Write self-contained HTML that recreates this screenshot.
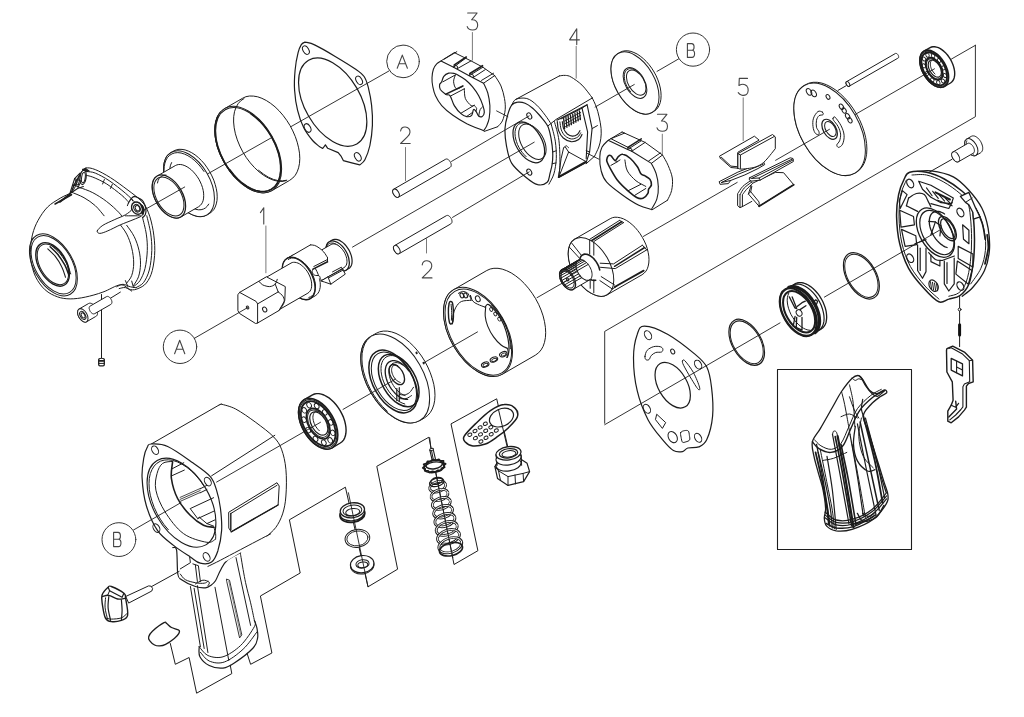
<!DOCTYPE html>
<html><head><meta charset="utf-8"><title>Exploded view</title>
<style>
html,body{margin:0;padding:0;background:#fff;font-family:"Liberation Sans",sans-serif;}
svg{display:block}
.g{fill:none;stroke:#1c1c1c;stroke-width:1;stroke-linecap:round;stroke-linejoin:round}
.t{stroke:#444;stroke-width:1.1}
</style></head><body>
<svg width="1024" height="717" viewBox="0 0 1024 717" class="g">
<rect x="0" y="0" width="1024" height="717" fill="#fff" stroke="none"/>
<g id="05_zigzag"><path d="M170.3 643.5 L175.3 664.3 L189.1 657.5 L196.6 693.2 L231.8 673.6 L228.8 657.5"/><path d="M246 650 L250.6 664.3 L271.9 653 L260.4 596 L300.2 573 L289.4 519.8 L345.4 487.2 L368 586.8 L397.6 569.2 L376.8 466.3 L428.9 437.2 L454 564.5 L477.9 550.7 L451 423.9 L496.7 398.8 L508 447.7"/></g>
<g id="10_nose"><path d="M85.8 168.1 C88.3 167.4 91.2 168 95.3 169.6 C99.4 171.2 104.9 174.2 110.4 177.6 C115.8 181 122.7 186.2 128 190.2 C133.2 194.1 138.3 197.7 141.8 201.5 C145.2 205.2 146.7 208 148.5 212.8 C150.4 217.6 152 224.1 153.1 230.3 C154.1 236.6 154.9 243.7 154.8 250.4 C154.7 257.1 153.7 265.1 152.3 270.5 C150.9 276 148.7 280.1 146.3 283.1 C143.9 286.1 140.6 287.5 138 288.6 C135.4 289.7 133.4 290.2 130.5 289.6 C127.5 289 125 284.4 120.4 284.8 C115.8 285.2 108.7 290.1 102.9 292.1 C97 294.2 90.7 296 85.3 297.1 C79.8 298.3 74.8 298.9 70.2 298.9 C65.6 298.8 61.8 298.4 57.7 296.9 C53.5 295.4 48.8 293.2 45.1 289.8 C41.4 286.5 38 281.7 35.6 276.8 C33.2 271.9 31.6 265.1 30.8 260.5 C30 255.9 30.3 253.6 30.5 249.2 C30.8 244.8 31.3 238.9 32.6 234.1 C33.8 229.3 35.6 224.8 38.1 220.3 C40.6 215.8 43.9 210.7 47.6 207 C51.3 203.3 56.2 200.7 60.2 198.2 C64.1 195.7 68.7 194.6 71.5 192.2 C74.2 189.8 75 186.9 76.5 183.9 C78 180.8 78.7 176.5 80.3 173.9 C81.8 171.2 83.3 168.8 85.8 168.1 Z" fill="#fff"/><path d="M87.3 171.6 C88.6 171.8 91.7 171.6 95.3 173.1 C99 174.6 104.1 177.3 109.1 180.6 C114.2 184 121.3 189.7 125.4 193.2 C129.6 196.7 132.8 200.1 134.2 201.5"/><path d="M84.8 175.1 C86.1 175.4 89.2 175.7 92.8 177.1 C96.4 178.6 101.8 180.9 106.6 183.9 C111.4 186.9 118.1 192.3 121.7 195.2 C125.2 198.1 126.9 200.4 128 201.5"/><path d="M146.8 215.8 C147.4 218.6 149.7 227.1 150.6 232.9 C151.4 238.6 152 244.2 151.8 250.4 C151.6 256.6 150.7 264.7 149.3 270 C147.9 275.4 145.7 279.6 143.5 282.6 C141.3 285.5 137.2 286.7 136 287.6"/><path d="M142.5 217.3 C143.1 220.1 145.5 228.6 146.3 234.1 C147.1 239.6 147.5 244.7 147.3 250.4 C147.1 256.2 146.2 263.5 145 268.5 C143.8 273.5 141.8 277.6 140 280.6 C138.2 283.5 135.2 285.2 134.2 286.1"/><path d="M119.2 223.3 C120.4 225.1 124.6 230 126.7 234.1 C128.8 238.2 130.6 243.1 131.7 247.9 C132.9 252.7 133.7 258.4 133.7 263 C133.7 267.6 132.9 272.2 131.7 275.5 C130.6 278.9 127.5 281.8 126.7 283.1"/><path d="M126.7 225.3 C128 227.2 132.2 232.4 134.2 236.6 C136.3 240.8 138 245.8 139 250.4 C140.1 255 140.6 259.8 140.5 264.2 C140.4 268.6 139.7 273.2 138.5 276.8 C137.3 280.3 134.3 284.1 133.5 285.6"/><path d="M80.3 187.7 C82.3 188.5 88.4 190.4 92.8 192.7 C97.2 195 102.2 198.1 106.6 201.5 C111 204.8 116.4 209.8 119.2 212.8 C122 215.7 122.7 218 123.4 219"/><path d="M71.5 192.2 C73.6 193.1 80 195.4 84 197.7 C88 200 92 202.7 95.3 205.7 C98.7 208.7 102.6 214.1 104.1 215.8"/><path d="M80.3 173.9 L77.2 179.6 L74 185.1 L71.5 192.2" stroke-width="1.4"/><path d="M85.8 168.1 L82.8 171.3 L80.3 177.6 L78.2 185.1"/><path d="M74 185.1 L80.3 187.7"/><path d="M55.1 204 L63.9 199 L71.5 194.7" stroke-width="1.6"/><path d="M116.7 286.8 C117.7 286.4 120.6 284.3 122.9 284.3 C125.2 284.3 128.3 286.3 130.5 286.8 C132.6 287.4 135.1 287.5 136 287.6"/><path d="M119.2 288.6 C120.2 288.4 123.4 287.2 125.4 287.6 C127.5 288 130.7 290.5 131.7 291.1"/><path d="M125.4 280.6 L128 286.8"/><path d="M131.7 281.1 L133.5 287.6"/><path d="M97.3 230.8 C97.8 229.5 100 227.2 102.9 225.3 C105.7 223.5 110.4 221.6 114.2 219.8 C117.9 218 122.4 216.6 125.4 214.8 C128.5 213 131 210.8 132.5 209 C133.9 207.2 133.3 205.1 134.2 204 C135.2 202.8 136.6 201.9 138 202.2 C139.4 202.5 141.6 204.2 142.5 205.7 C143.4 207.3 143.7 209.8 143.5 211.5 C143.4 213.2 143.5 214.4 141.8 215.8 C140 217.2 136.5 218.3 133 219.8 C129.4 221.3 124.6 223 120.4 224.8 C116.2 226.7 111.3 229.4 107.9 230.8 C104.4 232.3 101.6 233.4 99.8 233.4 C98.1 233.4 96.8 232.2 97.3 230.8 Z" fill="#fff"/><path d="M125.4 215.8 C126.7 215.8 130.5 215.8 133 215.8 C135.5 215.8 139.3 215.8 140.5 215.8"/><ellipse cx="137" cy="208.2" rx="5.12" ry="6.4" transform="rotate(-30 137 208.2)" fill="#fff" stroke-width="1.4"/><ellipse cx="137" cy="208.2" rx="3.00" ry="4" transform="rotate(-30 137 208.2)"/><ellipse cx="137.5" cy="208.2" rx="2.10" ry="2.8" transform="rotate(-30 137.5 208.2)"/><ellipse cx="83.1" cy="177.4" rx="3.0" ry="7.2" transform="rotate(8 83.1 177.4)" fill="#fff" stroke-width="1.2"/><ellipse cx="83.4" cy="177.6" rx="1.8" ry="5.2" transform="rotate(8 83.4 177.6)"/><path d="M80 173.2 L74.6 178.6 L69.8 193.7 L77.6 188.5 L83.4 186.6" stroke-width="1.1"/><path d="M74.6 178.6 L81 181"/><path d="M72.5 185.6 L79.5 184.4 L77.6 188.5"/><path d="M74.6 178.6 L76.6 183.9 L72.5 185.6"/><path d="M81 181 L79.5 184.4"/><path d="M82.5 169.3 L85.6 168.6 L89.3 170.9 L86.2 171.7 Z" fill="#222" stroke-width="1"/><path d="M60 201.8 L69.8 194.2" stroke-width="2.0"/><path d="M104.4 179.5 L102.6 184"/><path d="M112.3 184.4 L110.4 188.5"/><path d="M128.4 203 C128.8 202.2 130.3 199.7 131.3 198.6 C132.3 197.5 133.1 196.4 134.4 196.3 C135.7 196.3 137.6 197.4 139.1 198.3 C140.6 199.1 142.1 199.7 143.2 201.5 C144.3 203.3 145.6 206.6 145.9 208.8 C146.3 211 145.7 213.2 145.2 214.7 C144.6 216.2 143 217.1 142.5 217.6" stroke-width="1.2"/><path d="M141.8 205.9 C142.1 206.5 143.5 208.5 143.6 209.8 C143.7 211.1 142.7 212.9 142.5 213.5" stroke-width="2.4"/><path d="M128.4 203 L127.4 205.7"/><path d="M131.3 198.6 L132.8 201"/><ellipse cx="53.4" cy="264.9" rx="19.57" ry="33.9" transform="rotate(-30 53.4 264.9)"/><ellipse cx="53.6" cy="264.8" rx="18.42" ry="31.9" transform="rotate(-30 53.6 264.8)"/><ellipse cx="52.6" cy="264.4" rx="13.74" ry="23.8" transform="rotate(-30 52.6 264.4)" stroke-width="1.4"/><ellipse cx="52.9" cy="264.4" rx="12.82" ry="22.2" transform="rotate(-30 52.9 264.4)"/><path d="M50.1 246.8 C51.4 248.1 55.2 251.3 57.7 254.3 C60.1 257.4 63 261.7 64.9 265.2 C66.8 268.8 68.3 273.9 69 275.6" stroke-width="1.5"/><path d="M47.8 248.8 C49 250 52.8 253.2 55.1 256.2 C57.5 259.2 60.1 263.4 61.8 266.9 C63.6 270.4 64.9 275.5 65.5 277.3" stroke-width="1.1"/><path d="M52.3 246.1 C53.6 247.4 57.7 250.8 60.2 253.8 C62.6 256.9 65.4 261.2 67.2 264.5 C69 267.9 70.1 272.4 70.7 273.9"/></g>
<g id="20_bushing"><path d="M207 214.9 L204.5 216 L201.7 216.5 L198.7 216.5 L195.5 215.9 L192.3 214.8 L189 213.1 L185.6 211 L182.4 208.3 L179.2 205.3 L176.2 201.8 L173.5 198.1 L171 194.1 L168.8 190 L166.9 185.7 L165.4 181.4 L164.4 177.1 L163.7 173 L163.5 169 L163.7 165.3 L164.4 161.9 L165.4 158.9 L166.9 156.3 L168.8 154.2 L171 152.6 L173.7 151 L176.2 149.9 L179 149.3 L182 149.4 L185.1 149.9 L188.4 151.1 L191.7 152.7 L195.1 154.9 L198.3 157.5 L201.5 160.6 L204.5 164 L207.2 167.8 L209.7 171.7 L211.9 175.9 L213.8 180.2 L215.2 184.5 L216.3 188.7 L217 192.9 L217.2 196.8 L217 200.5 L216.3 203.9 L215.2 207 L213.8 209.6 L211.9 211.7 L209.7 213.3 Z" fill="#fff"/><ellipse cx="189" cy="183.7" rx="20.78" ry="36" transform="rotate(-30 189 183.7)" fill="#fff"/><path d="M204 171.5 L201.2 167.6 L198.1 163.9 L194.8 160.7 L191.4 157.9 L187.9 155.7 L184.5 154.1 L181.1 153 L177.8 152.6 L174.8 152.9 L172.1 153.8 L169.7 155.3 L167.6 157.4 L166 160 L164.9 163.1 L164.2 166.7 L164 170.6 L164.4 174.8 L165.2 179.1 L166.5 183.6 L168.2 188.1 L170.3 192.5 L172.9 196.7 L175.7 200.7 L178.8 204.3 L182.1 207.5"/><path d="M208.7 204.1 L207.3 206.2 L205.5 207.9 L203.5 209 L201.1 209.7 L198.5 209.8 L195.8 209.3 L192.9 208.4 L190 206.9 L187.1 205 L184.2 202.6 L181.5 199.8 L178.9 196.7 L176.6 193.3 L174.6 189.7 L172.8 186 L171.4 182.2 L170.4 178.4 L169.8 174.8 L169.7 171.3 L169.9 168.1 L170.5 165.2 L171.6 162.6"/><path d="M180.7 217 L179 217.7 L177.2 218 L175.3 218 L173.2 217.6 L171.1 216.9 L168.9 215.8 L166.7 214.4 L164.6 212.7 L162.5 210.7 L160.5 208.4 L158.7 206 L157.1 203.4 L155.6 200.6 L154.4 197.8 L153.5 195 L152.8 192.2 L152.3 189.5 L152.2 186.9 L152.3 184.5 L152.8 182.2 L153.5 180.3 L154.4 178.6 L155.6 177.2 L157.1 176.1 L175.3 165.6 L176.9 164.9 L178.7 164.5 L180.7 164.5 L182.7 164.9 L184.9 165.7 L187.1 166.8 L189.2 168.2 L191.4 169.9 L193.4 171.9 L195.4 174.2 L197.2 176.6 L198.9 179.2 L200.3 182 L201.5 184.7 L202.5 187.6 L203.2 190.4 L203.6 193.1 L203.7 195.7 L203.6 198.1 L203.2 200.3 L202.5 202.3 L201.5 204 L200.3 205.4 L198.9 206.5 Z" fill="#fff"/><ellipse cx="168.9" cy="196.5" rx="13.63" ry="23.6" transform="rotate(-30 168.9 196.5)" fill="#fff" stroke-width="1.3"/><ellipse cx="168.9" cy="196.5" rx="12.30" ry="21.3" transform="rotate(-30 168.9 196.5)"/><path d="M166 175.1 L163.9 175.3 L162 175.9 L160.4 177.1 L159.1 178.6 L158.1 180.6 L157.5 183"/></g>
<g id="21_sleeve"><path d="M271.9 190.6 L268.6 192 L264.9 192.7 L261 192.7 L256.9 191.9 L252.6 190.4 L248.2 188.2 L243.8 185.4 L239.6 181.9 L235.4 177.9 L231.5 173.4 L227.8 168.5 L224.6 163.2 L221.7 157.8 L219.2 152.2 L217.3 146.5 L215.9 140.9 L215.1 135.5 L214.8 130.3 L215.1 125.4 L215.9 120.9 L217.3 117 L219.2 113.6 L221.7 110.8 L224.6 108.6 L242.7 98.2 L245.9 96.7 L249.6 96 L253.5 96.1 L257.7 96.8 L261.9 98.3 L266.3 100.5 L270.7 103.4 L275 106.8 L279.1 110.8 L283 115.3 L286.7 120.3 L290 125.5 L292.8 130.9 L295.3 136.6 L297.2 142.2 L298.6 147.8 L299.5 153.2 L299.8 158.4 L299.5 163.3 L298.6 167.8 L297.2 171.8 L295.3 175.2 L292.8 178 L290 180.1 Z" fill="#fff"/><ellipse cx="248.2" cy="149.6" rx="27.31" ry="47.3" transform="rotate(-30 248.2 149.6)" fill="#fff"/><ellipse cx="248.2" cy="149.6" rx="26.56" ry="46" transform="rotate(-30 248.2 149.6)" stroke-width="1.0"/><path d="M229.6 169.6 L233.5 174.6 L237.7 179.1 L242.1 183 L246.7 186.2 L251.3 188.7 L255.8 190.5 L260.2 191.4 L264.3 191.5 L268.1 190.8 L271.5 189.2 L274.5 186.9 L276.9 183.8 L278.8 180.1 L280 175.7 L280.7 170.8 L280.6 165.5 L280 159.9 L278.7 154.1 L276.8 148.2 L274.3 142.3 L271.4 136.6 L267.9 131.1 L264.1 126 L259.9 121.3 L255.6 117.3 L251 113.8" stroke-width="1.6"/><path d="M218.2 116.1 L216.5 120.2 L215.4 124.9 L215 130.1 L215.3 135.8 L216.3 141.7 L217.9 147.7 L220.2 153.8 L223 159.9 L226.3 165.7 L230.1 171.2 L234.2 176.2" stroke-width="1.4"/><path d="M244 98.6 L240.8 100.7 L238.1 103.7 L236 107.4 L234.5 111.7 L233.7 116.7 L233.6 122 L234.2 127.8 L235.4 133.8 L237.3 139.9 L239.8 146 L242.8 151.9 L246.3 157.6 L250.3 162.9 L254.6 167.7 L259.1 171.9 L263.8 175.4 L268.5 178.1 L273.2 180.1 L277.7 181.2 L282 181.4 L286 180.7"/><path d="M258.6 170.3 L263.5 174.1 L268.4 177.2 L273.4 179.4 L278.1 180.6 L282.6 180.9 L286.8 180.2"/></g>
<g id="22_gasket"><path d="M305.1 42.1 C306.8 42.6 310.1 42.7 315.1 45.1 C320.2 47.5 328.5 52.4 335.2 56.4 C341.9 60.4 350.5 65.6 355.3 69 C360.1 72.3 361.9 73.4 364.1 76.5 C366.3 79.6 367.1 83 368.4 87.8 C369.6 92.6 371 99.1 371.6 105.4 C372.3 111.6 372.7 118.8 372.4 125.4 C372.1 132.1 371.1 139.8 369.9 145.5 C368.6 151.3 366.5 156.6 364.9 159.8 C363.2 163.1 360.7 164 359.8 164.9 L350.8 162.6 L343.3 160.6 L341 156.1 L338.2 152.6 L327.7 148.3 L325.4 144.8 L322.7 148.5 L319.7 146.8 L319.7 146.8 C318.5 145.7 315.3 143.7 312.6 140.5 C310 137.4 306.4 133 303.9 128 C301.3 122.9 299.1 116.7 297.6 110.4 C296 104.1 295 97 294.6 90.3 C294.1 83.6 294.5 76.5 295.1 70.2 C295.6 63.9 297 56.9 298.1 52.6 C299.1 48.4 300.2 46.4 301.3 44.6 C302.5 42.8 304.5 42.5 305.1 42.1 Z" fill="#fff" stroke-width="1.2"/><ellipse cx="332.7" cy="102.1" rx="27.89" ry="48.3" transform="rotate(-30 332.7 102.1)" stroke-width="1.2"/><ellipse cx="305.9" cy="50.1" rx="2.85" ry="4.6" transform="rotate(-30 305.9 50.1)"/><ellipse cx="359.1" cy="80.3" rx="2.85" ry="4.6" transform="rotate(-30 359.1 80.3)"/><ellipse cx="307.6" cy="128" rx="2.85" ry="4.6" transform="rotate(-30 307.6 128)"/><ellipse cx="357.8" cy="156.8" rx="2.85" ry="4.6" transform="rotate(-30 357.8 156.8)"/></g>
<g id="30_cam3a"><path d="M441 60.9 L454.3 52.6 L465.4 58.1 L471 60.9 L482.9 67.2 L494.7 75.6 L501 86 L504.5 98.6 L505.2 109.7 L502.4 120.9 L497.5 126.8 L484.3 131.4 L483.6 130.7 L466.8 123.7 L441.7 105.6 L432 77.7 Z" fill="#fff" stroke="none"/><path d="M494.7 75.6 C495.8 77.3 499.4 82.2 501 86 C502.6 89.9 503.8 94.6 504.5 98.6 C505.2 102.5 505.5 106 505.2 109.7 C504.8 113.5 503.7 118.1 502.4 120.9 C501.1 123.7 498.3 125.8 497.5 126.8"/><path d="M497.5 126.8 L484.3 131.4"/><path d="M454.3 52.6 L465.4 58.1 L471 60.9 L482.9 67.2 L494.7 75.6"/><path d="M441 60.9 L453.6 67.2 L469.6 76 L483.6 83.2 L483.6 83.2 C484.3 84.9 486.7 89.3 487.8 93 C488.8 96.7 489.6 101.4 489.9 105.6 C490.1 109.7 489.7 114.6 489.2 118.1 C488.6 121.6 487.3 124.4 486.4 126.5 C485.4 128.6 484 130 483.6 130.7 L483.6 130.7 C480.8 129.5 472 126.2 466.8 123.7 C461.7 121.1 457.1 118.3 452.9 115.3 C448.7 112.3 444.6 108.8 441.7 105.6 C438.8 102.3 437 99 435.5 95.8 C433.9 92.5 433.3 89 432.7 86 C432.1 83 431.9 80.4 432 77.7 C432.1 74.9 432.6 71.6 433.4 69.3 C434.2 67 435.6 65.1 436.9 63.7 C438.1 62.3 440.3 61.4 441 60.9 Z" fill="#fff" stroke-width="1.1"/><path d="M441 60.9 L454.3 52.6"/><path d="M444.1 59.2 L456.8 51.7"/><path d="M453.6 67.2 L465.4 58.4"/><path d="M457.4 68.6 L471 60.9"/><path d="M469.4 75.6 L482.9 67.2"/><path d="M473.3 77.4 L485.3 69.6"/><path d="M483.6 83.2 L494.7 75.6"/><path d="M481.5 80.4 L493.6 73.2"/><path d="M453.6 67.2 L454.3 64.8 L457.4 66.2 L457.4 68.6"/><path d="M469.4 75.6 L469.9 73.5 L473.3 75.1 L473.3 77.4"/><path d="M454.3 64.8 L466.3 57" stroke-width="1.6"/><path d="M469.9 73.5 L482.5 65.7" stroke-width="1.6"/><path d="M441.7 81.8 C442.4 80.4 442.7 77.7 443.8 76.3 C445 74.8 447 73.7 448.7 73.2 C450.5 72.7 452.8 73.2 454.3 73.5 C455.8 73.8 455.9 73.8 457.8 74.9 C459.6 75.9 463 77.8 465.4 79.7 C467.9 81.7 470.2 84 472.4 86.7 C474.6 89.4 477 92.6 478.7 95.8 C480.4 98.9 482 102.8 482.9 105.6 C483.8 108.3 484.4 110.7 484.3 112.5 C484.2 114.3 483.1 115.8 482.2 116.4 C481.3 117 479.7 116.9 478.7 116 C477.6 115.1 476.8 112.2 475.9 111.1 C475 110.1 474.2 109 473.5 109.7 C472.8 110.4 472.8 114.2 471.7 115.3 C470.6 116.5 468.6 116.9 466.8 116.7 C465.1 116.5 463.4 115.8 461.3 113.9 C459.2 112.1 456.1 108.6 454.3 105.6 C452.4 102.5 451.5 97.6 450.1 95.8 C448.7 93.9 447.5 95.4 445.9 94.4 C444.3 93.3 441.4 91.1 440.3 89.5 C439.3 87.9 439.4 85.9 439.6 84.6 C439.9 83.4 441 83.2 441.7 81.8 Z" stroke-width="1.2"/><path d="M442.9 81.8 L455.4 74.9"/><path d="M445.9 94.1 L462.9 86" stroke-width="1.5"/><path d="M450.4 96.1 L464.3 88.8"/><path d="M461 113.2 L474.1 105.3"/><path d="M466.8 116.4 L472.4 112.5"/><path d="M455.4 74.9 C455.1 76 453.4 79.5 453.6 81.8 C453.8 84.2 454.8 88.1 456.4 88.8 C457.9 89.5 461.8 86.5 462.9 86"/><path d="M464.3 88.8 C464.5 90.4 464.3 95.8 465.4 98.6 C466.6 101.4 469.6 104.4 471 105.6 C472.5 106.7 473.6 105.3 474.1 105.3"/><path d="M474.1 105.3 C474.5 105.8 476.3 107.4 476.6 108.3 C476.9 109.3 476 110.7 475.9 111.1"/><path d="M478.7 116 C478.9 115 479.5 111.2 480.1 109.7 C480.7 108.2 482.1 107.4 482.5 106.9"/></g>
<g id="31_cage"><path d="M515.9 99.3 L559.4 75.9 L570.3 76.7 L582 85.1 L592.1 97.6 L598.8 115.2 L601.3 131.9 L599.6 143.7 L594.6 156.2 L586.2 163.7 L558.6 178.8 L548.6 184.7 L537.7 184.7 L525.5 177 L511.6 163.1 L506.4 145.3 L505 128.6 L507.6 115.2 L511.7 105.2 Z" fill="#fff" stroke="none"/><path d="M515.9 99.3 L559.4 75.9"/><path d="M559.4 75.9 C560.4 75.8 563.3 75.2 565.3 75.4 C567.2 75.6 568.4 75.4 571.2 77.1 C573.9 78.7 578.5 81.7 582 85.1 C585.5 88.5 590.4 95.5 592.1 97.6"/><path d="M592.1 97.6 C592.8 99.2 595.1 103.6 596.3 106.8 C597.4 110 598.3 113.3 599.1 116.9 C599.9 120.5 600.8 125 601.1 128.6 C601.4 132.2 601.2 135.6 600.8 138.6 C600.4 141.7 599.8 144.1 598.8 147 C597.7 149.9 595.3 154.7 594.6 156.2"/><path d="M594.6 156.2 L586.2 163.7"/><path d="M511.7 105.2 C512.4 104.2 513.4 100.4 515.9 99.3 C518.4 98.2 523.3 97.5 526.8 98.5 C530.3 99.4 533.8 102.4 536.8 105.2 C539.9 108 542.8 112.1 545.2 115.2 C547.6 118.3 550.1 122.5 551.1 123.9"/><path d="M547.7 126.1 L556.1 119.4 L592.1 98.1"/><path d="M511.7 105.2 C513.4 103 515.4 102.5 517.6 102.2 C519.8 101.8 522.6 102.2 525.1 103.2 C527.6 104.2 530.1 106 532.7 108.2 C535.2 110.3 537.7 113.1 540.2 116 C542.7 119 545.9 122.3 547.7 126.1 C549.5 129.9 550.2 134.3 551.1 138.6 C551.9 143 552.5 147.8 552.7 152 C552.9 156.2 552.7 160.1 552.2 163.7 C551.8 167.4 550.7 170.7 549.9 173.8 C549.1 176.9 549.3 180.3 547.2 182.2 C545.2 184 541.3 185.5 537.7 184.7 C534.1 183.8 529.8 180.6 525.5 177 C521.1 173.4 514.7 168.3 511.6 163.1 C508.4 157.8 507.5 151.1 506.4 145.3 C505.3 139.6 504.8 133.6 505 128.6 C505.2 123.6 506.4 119.1 507.6 115.2 C508.7 111.3 510.1 107.3 511.7 105.2 Z" fill="#fff" stroke-width="1.2"/><path d="M551.1 123.9 C551.8 126.8 554.4 135.3 555.3 141.2 C556.1 147 556.5 153.3 556.3 158.7 C556 164.2 555.1 169.5 553.9 173.8 C552.7 178 549.7 182.4 548.9 184.2"/><path d="M554.4 121.6 C555.2 124.7 558 133 558.9 140.3 C559.9 147.6 560 159.2 559.9 165.4 C559.8 171.6 558.5 175.5 558.3 177.5"/><path d="M552.7 152 L556.3 150.7"/><path d="M552.2 163.7 L556.1 162.9"/><path d="M556.9 120.2 L587.1 104.7 L592.1 128.6 L589.6 152 L586.2 162.4 L558.6 177.5" stroke-width="1.1"/><path d="M582 108.2 L587.6 131.9 L586.2 158.7" stroke-width="1.1"/><path d="M586.2 161.7 L558.9 176.8" stroke-width="2"/><path d="M587.1 104.7 L582 108.2"/><path d="M592.1 128.6 L597.4 125.6"/><path d="M589.6 152 L586.2 150.7"/><path d="M557.3 121.6 C557.5 123.1 557.6 127.9 558.6 130.6 C559.6 133.3 561.2 136.1 563.3 138 C565.4 139.8 568.6 141.4 571.2 141.7 C573.7 141.9 576.9 140.7 578.7 139.5 C580.5 138.3 581.5 135.3 582 134.5" stroke-width="1.2"/><path d="M559.9 121.9 C560.2 123.2 560.4 127.6 561.3 129.9 C562.2 132.3 563.6 134.6 565.3 136.1 C567 137.6 569.6 138.8 571.7 139 C573.7 139.1 576.3 138 577.8 137 C579.4 135.9 580.2 133.5 580.7 132.8"/><path d="M562.3 121.6 C562.5 122.7 562.8 126.5 563.6 128.6 C564.5 130.7 565.9 132.7 567.3 134 C568.8 135.2 570.6 136 572.3 136.1 C574 136.2 576.1 135.4 577.3 134.5 C578.6 133.5 579.6 131.2 580 130.6" stroke-width="1.1"/><path d="M561.1 118.9 L582 108.2"/><path d="M563.6 118.2 L564.6 128.6" stroke-width="1.3"/><path d="M565.9 117.2 L566.9 127.3" stroke-width="1.3"/><path d="M568.1 116.1 L569.1 126" stroke-width="1.3"/><path d="M570.4 115.1 L571.4 124.7" stroke-width="1.3"/><path d="M572.7 114.1 L573.7 123.4" stroke-width="1.3"/><path d="M574.9 113 L575.9 122.2" stroke-width="1.3"/><path d="M577.2 112 L578.2 120.9" stroke-width="1.3"/><path d="M579.4 111 L580.4 119.6" stroke-width="1.3"/><path d="M564.5 121.1 L580.7 112.4" stroke-width="0.8"/><path d="M564.5 124.1 L580.7 115.4" stroke-width="0.8"/><path d="M564.5 127.1 L580.7 118.4" stroke-width="0.8"/><path d="M565.3 147 L568.6 152 L586.2 161.7"/><path d="M568.6 152 L559.3 175.8"/><path d="M564 147.8 C564.3 147.5 565.3 145.7 566.1 145.7 C566.9 145.7 568.2 147.5 568.6 147.8"/><path d="M563.6 147.8 L561.1 158.7 L558.6 177.1"/><ellipse cx="528.8" cy="142.3" rx="12.93" ry="22.4" transform="rotate(-30 528.8 142.3)" stroke-width="1.2"/><ellipse cx="532.4" cy="141.7" rx="11.20" ry="19.4" transform="rotate(-30 532.4 141.7)"/><path d="M536.3 130.1 L534.3 128 L532.2 126.3 L530.1 124.8 L527.9 123.8 L525.8 123.1 L523.8 122.8 L521.9 122.9 L520.2 123.4 L518.6 124.3 L517.3 125.5 L516.3 127.1 L515.6 129.1 L515.1 131.3 L515 133.7 L515.2 136.3 L515.7 139 L516.5 141.7 L517.5 144.5 L518.9 147.3 L520.4 149.9 L522.2 152.4 L524.1 154.6 L526.1 156.6"/><ellipse cx="529.3" cy="116" rx="2.18" ry="3.3" transform="rotate(-30 529.3 116)"/><ellipse cx="529.3" cy="172.1" rx="2.18" ry="3.3" transform="rotate(-30 529.3 172.1)"/></g>
<g id="32_washer"><path d="M652 112.4 L649.6 113.5 L647 114 L644.2 114 L641.2 113.4 L638.1 112.3 L635 110.8 L631.9 108.7 L628.8 106.2 L625.8 103.3 L623 100.1 L620.4 96.6 L618 92.8 L615.9 88.9 L614.2 84.9 L612.8 80.8 L611.8 76.8 L611.2 72.9 L611 69.1 L611.2 65.6 L611.8 62.4 L612.8 59.6 L614.2 57.1 L615.9 55.1 L618 53.6 L620.1 52.4 L622.4 51.3 L625.1 50.8 L627.9 50.8 L630.9 51.4 L633.9 52.5 L637.1 54 L640.2 56.1 L643.3 58.6 L646.3 61.5 L649.1 64.7 L651.7 68.2 L654.1 72 L656.2 75.9 L657.9 79.9 L659.3 84 L660.3 88 L660.9 91.9 L661.1 95.7 L660.9 99.2 L660.3 102.4 L659.3 105.2 L657.9 107.7 L656.2 109.7 L654.1 111.2 Z" fill="#fff"/><ellipse cx="635" cy="83" rx="19.63" ry="34" transform="rotate(-30 635 83)" fill="#fff"/><ellipse cx="635" cy="83" rx="9.70" ry="16.8" transform="rotate(-30 635 83)"/><ellipse cx="636.2" cy="82.6" rx="7.97" ry="13.8" transform="rotate(-30 636.2 82.6)"/><path d="M640 74 L638.5 72.6 L637 71.3 L635.4 70.2 L633.8 69.4 L632.3 68.9 L630.8 68.7 L629.4 68.7 L628.1 69.1 L627 69.7 L626.1 70.6 L625.3 71.7 L624.7 73.1 L624.4 74.7 L624.3 76.4 L624.4 78.3 L624.7 80.3 L625.2 82.3 L626 84.3 L626.9 86.3 L628 88.3 L629.3 90.1 L630.6 91.8"/></g>
<g id="33_cam3b"><path d="M608.1 140.3 L622.1 132 L645.1 142.4 L662.5 155 L668.1 165.4 L672.3 178 L671.6 190.6 L667.4 200.3 L652.1 209.8 L638.8 205.2 L606.7 182.2 L599.8 157.1 Z" fill="#fff" stroke="none"/><path d="M622.1 132 L645.1 142.4 L662.5 155"/><path d="M662.5 155 C663.5 156.7 666.5 161.6 668.1 165.4 C669.7 169.3 671.7 173.8 672.3 178 C672.9 182.2 672.4 186.8 671.6 190.6 C670.8 194.3 668.1 198.7 667.4 200.3"/><path d="M667.4 200.3 L652.1 209.8"/><path d="M608.1 140.3 L627.7 149.4 L631.8 151.2 L651.4 163.4 L651.4 163.4 C652.2 165.1 655.1 170 656.2 173.8 C657.4 177.6 658.2 182.2 658.3 186.4 C658.5 190.6 658.1 195.1 656.9 198.9 C655.8 202.8 652.3 207.6 651.4 209.4 L651.4 209.4 C649.3 208.7 643.7 207.6 638.8 205.2 C633.9 202.8 627.4 198.6 622.1 194.7 C616.7 190.9 610.2 186.1 606.7 182.2 C603.2 178.2 602.3 175.2 601.2 171 C600 166.8 599.6 161 599.8 157.1 C599.9 153.1 600.5 150.1 601.9 147.3 C603.2 144.5 607.1 141.5 608.1 140.3 Z" fill="#fff" stroke-width="1.1"/><path d="M608.1 140.3 L622.1 132"/><path d="M610.9 138.7 L624.6 133.1"/><path d="M627.7 149.4 L640.9 141"/><path d="M631.8 151.2 L645.1 142.4"/><path d="M651.4 163.4 L662.5 155"/><path d="M648.6 161 L660.4 152.9"/><path d="M627.7 149.4 L627.9 147.3 L631.8 149 L631.8 151.2"/><path d="M627.9 147.3 L641.3 138.9" stroke-width="1.5"/><path d="M610.9 138.7 L627.9 147.3"/><path d="M606.7 159.9 C606.9 158.8 607.4 156.7 608.1 156 C608.8 155.3 609.8 154.9 610.9 155.7 C612.1 156.5 613.8 160.4 615.1 160.6 C616.4 160.7 617.3 157.4 618.6 156.4 C619.9 155.3 620.8 153.9 622.8 154.3 C624.8 154.6 628 156.4 630.4 158.5 C632.9 160.6 635.7 164.3 637.4 166.8 C639.2 169.4 639.6 172.3 640.9 173.8 C642.2 175.3 643.6 175 645.1 175.9 C646.6 176.8 648.9 177.9 650 179.4 C651 180.9 651.6 183.3 651.4 185 C651.1 186.6 649.2 187.8 648.6 189.2 C648 190.6 648.8 191.8 647.9 193.3 C647 194.9 644.9 197.5 643 198.2 C641.1 198.9 639.3 198.8 636.7 197.5 C634.2 196.2 630.8 193.3 627.7 190.6 C624.5 187.8 620.7 184.3 617.9 180.8 C615.1 177.3 612.7 172.7 610.9 169.6 C609.2 166.6 608.1 164.3 607.4 162.7 C606.7 161 606.6 161 606.7 159.9 Z" stroke-width="1.6"/><path d="M624.9 159.9 C625.3 161.7 625.5 167.5 627.4 171 C629.2 174.5 633 178.2 636 180.8 C639.1 183.3 644.2 185.4 645.8 186.4"/><path d="M628.4 190.6 L640.9 184.3"/><path d="M634.6 195.4 L645.8 188.5"/><path d="M610.9 165.4 L617.9 161.5"/><path d="M615.1 160.6 C615.5 160.7 616.4 161.7 617.2 161.5 C618 161.4 619.5 160.1 620 159.9"/></g>
<g id="40_vanes"><path d="M719.8 156 L754.4 136.2 L759.1 140.1 L737.9 152.2 L737.9 168.2 L730.9 167.5 L720.5 158.2 Z" fill="#fff"/><path d="M720.5 158.2 L721.2 157.1 L730.9 166.1 L737.9 166.8"/><path d="M751.8 183.6 L775.3 172.4 L783.6 172.7 L793.7 184.7 L759.1 206.3 L748.4 194 L750.4 187.8 Z" fill="#fff"/><path d="M759.1 206.3 L793.7 184.7" stroke-width="1.8"/><path d="M748.4 194 L750.7 191.7 L759.1 202 L759.1 206.3"/><path d="M750.7 191.7 L751.8 186.4"/><path d="M719.5 181.5 L737.9 172.1 L751.8 166.6 L763.7 162.1 L764.7 164.6 L758.1 168.5 L744.9 174.9 L730.6 180.5 L728.4 183.6 L720.5 184.3 Z" fill="#fff"/><path d="M721.4 182.5 L730.6 180.5"/><path d="M721.4 182.5 L738.6 174.1 L751.8 168.8 L763.3 164.1"/><path d="M749.7 177.7 L790.2 157.8 L793 158.5 L793.4 161.5 L760.2 180.1 L751.8 181.1 L749.7 180.1 Z" fill="#fff"/><path d="M751.8 178.4 L792 159.2"/><path d="M749.7 177.7 L751.8 178.4 L759.1 178 L760.2 180.1"/><path d="M759.1 178 L793.1 159.9"/><path d="M737.9 153.6 L737.9 168.2"/><path d="M737.9 168.2 L737.9 153.6 L772.5 134.5 L775.3 136.9 L775.3 148.7 L771.4 153.6 L771.4 153.6 C770.1 155.1 766.3 160.2 763.7 162.4 C761.1 164.6 758.7 165.8 756 166.8 C753.4 167.9 750.2 168.1 747.7 168.5 C745.1 168.9 742.3 169.1 740.7 169.1 C739.1 169 738.4 168.4 737.9 168.2 Z" fill="#fff"/><path d="M740.4 168.5 L740.4 155 L774.4 136.4"/><path d="M737.9 153.6 L740.4 155"/><path d="M737.9 193.3 C738.7 192.2 740.7 188.5 742.8 186.4 C744.9 184.3 749.2 181.7 750.4 180.8 L752.5 183.6 L752.5 183.6 C751.5 184.6 748.2 187.6 746.5 189.4 C744.8 191.3 743.1 193.9 742.4 194.7 L742.4 206.6 L740 207.6 L737.9 205.9 Z" fill="#fff"/><path d="M740 194.7 C740.7 193.6 742.3 190.1 744.2 188 C746 186 750 183.4 751.1 182.5"/><path d="M740 194.7 L740 207.6"/><path d="M742.4 206.6 L751.8 201.4"/></g>
<g id="41_disc"><path d="M854.9 173.1 L851.3 174.6 L847.4 175.4 L843.2 175.4 L838.8 174.5 L834.2 173 L829.6 170.6 L824.9 167.6 L820.3 163.9 L815.9 159.6 L811.7 154.7 L807.8 149.5 L804.3 143.9 L801.2 138.1 L798.6 132.1 L796.5 126 L795 120 L794.1 114.2 L793.8 108.6 L794.1 103.4 L795 98.6 L796.5 94.4 L798.6 90.7 L801.2 87.8 L804.3 85.5 L805.8 84.6 L809.3 83 L813.2 82.3 L817.4 82.3 L821.8 83.1 L826.4 84.7 L831.1 87.1 L835.8 90.1 L840.4 93.8 L844.8 98.1 L849 102.9 L852.9 108.2 L856.4 113.8 L859.5 119.6 L862.1 125.6 L864.2 131.7 L865.7 137.7 L866.6 143.5 L866.9 149.1 L866.6 154.3 L865.7 159 L864.2 163.3 L862.1 166.9 L859.5 169.9 L856.4 172.2 Z" fill="#fff"/><ellipse cx="829.6" cy="129.3" rx="29.21" ry="50.6" transform="rotate(-30 829.6 129.3)" fill="#fff"/><ellipse cx="829.6" cy="129.3" rx="6.35" ry="11" transform="rotate(-30 829.6 129.3)" stroke-width="1.2"/><ellipse cx="830.4" cy="129" rx="4.73" ry="8.2" transform="rotate(-30 830.4 129)"/><path d="M822.5 112.2 C821.7 111.7 819.5 110.5 818 111.5 C816.5 112.5 814.3 115.7 813.5 118.2 C812.6 120.8 812.7 124.1 813 126.5 C813.2 129 814.1 131.4 815 132.8 C815.9 134.2 817.8 135 818.5 134.8 C819.2 134.7 819.3 133.1 819 131.8 C818.7 130.5 816.9 129.2 816.5 127.3 C816.1 125.4 816.1 122.2 816.5 120.3 C816.9 118.3 817.9 116.7 819 115.7 C820.1 114.8 822.4 115.3 823 114.7 C823.6 114.1 823.4 112.8 822.5 112.2 Z"/><path d="M833.1 118.2 C833.3 117.7 833.7 116 835.1 117.2 C836.4 118.5 839.6 122.8 841.1 125.8 C842.6 128.8 843.9 132.3 844.1 135.3 C844.4 138.4 843.5 142.1 842.6 144.1 C841.7 146.1 839.6 147.2 838.6 147.4 C837.6 147.5 836.7 145.9 836.8 144.9 C837 143.8 839 142.6 839.6 140.8 C840.2 139 840.8 136.4 840.6 134.1 C840.3 131.7 839.3 128.8 838.1 126.5 C836.9 124.2 834.4 121.6 833.6 120.3 C832.7 118.9 832.8 118.7 833.1 118.2 Z"/><ellipse cx="809" cy="91.9" rx="2.34" ry="3.6" transform="rotate(-30 809 91.9)"/><ellipse cx="813.7" cy="93.4" rx="2.34" ry="3.6" transform="rotate(-30 813.7 93.4)"/><ellipse cx="828" cy="96.9" rx="1.69" ry="2.6" transform="rotate(-30 828 96.9)"/><ellipse cx="841.4" cy="106.7" rx="1.89" ry="2.9" transform="rotate(-30 841.4 106.7)"/><ellipse cx="844.1" cy="110.5" rx="1.89" ry="2.9" transform="rotate(-30 844.1 110.5)"/><ellipse cx="847.6" cy="116.2" rx="1.89" ry="2.9" transform="rotate(-30 847.6 116.2)"/><ellipse cx="849.9" cy="120.3" rx="1.89" ry="2.9" transform="rotate(-30 849.9 120.3)"/></g>
<g id="42_pin3"><path d="M849.2 86.3 L849.1 86.4 L848.9 86.5 L848.6 86.5 L848.4 86.4 L848.1 86.3 L847.9 86.2 L847.7 86 L847.4 85.8 L847.2 85.6 L846.9 85.4 L846.7 85.1 L846.6 84.8 L846.4 84.5 L846.2 84.1 L846.1 83.8 L846.1 83.5 L846 83.2 L846 82.9 L846 82.6 L846.1 82.4 L846.1 82.1 L846.2 81.9 L846.4 81.8 L846.5 81.7 L895.4 53.5 L895.6 53.4 L895.8 53.3 L896 53.3 L896.2 53.4 L896.5 53.5 L896.7 53.6 L897 53.8 L897.2 54 L897.5 54.2 L897.7 54.4 L897.9 54.7 L898.1 55 L898.3 55.3 L898.4 55.7 L898.5 56 L898.6 56.3 L898.6 56.6 L898.7 56.9 L898.6 57.2 L898.6 57.4 L898.5 57.7 L898.4 57.9 L898.3 58 L898.1 58.1 Z" fill="#fff"/><ellipse cx="847.9" cy="84" rx="1.56" ry="2.7" transform="rotate(-30 847.9 84)" fill="#fff"/><path d="M846 85.8 L838 90.4"/></g>
<g id="50_rearhousing"><path d="M915.3 171.9 C919 164.2 924.6 169.9 930.9 170.8 C937.3 171.6 946.9 173.5 953.3 176.8 C959.6 180 964.1 185 968.9 190.2 C973.6 195.4 978.6 201.7 981.8 208 C985 214.3 986.8 221 988.1 228.1 C989.3 235.2 990 243.4 989.4 250.4 C988.8 257.5 987.3 264.4 984.5 270.5 C981.8 276.6 976.6 283 972.9 287.2 C969.2 291.5 966.2 294.2 962.2 296.2 C958.2 298.1 954 301.1 948.8 299.1 C943.6 297 937.6 297.6 930.9 283.9 C924.3 270.2 911.2 235.6 908.6 216.9 C906 198.3 911.6 179.6 915.3 171.9 Z" fill="#fff" stroke="none"/><path d="M915.3 171.9 C917.9 171.7 924.6 169.9 930.9 170.8 C937.3 171.6 946.9 173.5 953.3 176.8 C959.6 180 964.1 185 968.9 190.2 C973.6 195.4 978.6 201.7 981.8 208 C985 214.3 986.8 221 988.1 228.1 C989.3 235.2 990 243.4 989.4 250.4 C988.8 257.5 987.3 264.4 984.5 270.5 C981.8 276.6 976.6 283 972.9 287.2 C969.2 291.5 964 294.7 962.2 296.2" stroke-width="1.3"/><path d="M970.7 201.3 C972.1 203.6 976.8 209.5 979.2 214.7 C981.5 219.9 983.5 226.6 984.5 232.6 C985.6 238.5 986 244.5 985.4 250.4 C984.8 256.4 983.4 262.7 980.9 268.3 C978.5 273.9 972.4 281.3 970.7 283.9"/><path d="M975.6 208 C976.7 210.6 980.7 218.4 982.3 223.6 C983.9 228.9 984.7 236.7 985.2 239.3" stroke-width="1.6"/><path d="M987.2 234.8 C987.4 237 988.7 243.4 988.3 248.2 C987.9 253 985.5 261.2 985 263.8" stroke-width="1.8"/><path d="M909.7 172.3 C913.5 171.2 920.7 171.2 926.5 172.3 C932.3 173.4 938.4 175.8 944.3 179 C950.3 182.2 957.8 187.6 962.2 191.3 C966.6 195 968.8 197.1 970.7 201.3 C972.5 205.6 972.7 210.6 973.4 216.9 C974 223.3 974.5 231.8 974.5 239.3 C974.5 246.7 974.3 254.1 973.4 261.6 C972.4 269 971.1 278.2 968.9 283.9 C966.7 289.6 963.3 293 960 295.5 C956.6 298 952.3 298 948.8 299.1 C945.3 300.1 942.9 303.5 938.8 301.8 C934.7 300 929.3 294.4 924.3 288.8 C919.2 283.2 912.7 275.8 908.6 268.3 C904.5 260.8 901.7 252.3 899.7 243.7 C897.7 235.2 896.8 225.1 896.6 216.9 C896.4 208.8 897.3 201 898.6 194.6 C899.9 188.3 902.3 182.7 904.2 179 C906 175.3 906 173.4 909.7 172.3 Z" fill="#fff" stroke-width="1.5"/><path d="M912 175 C914.4 175 921.3 173.9 926.5 175 C931.7 176.1 937.6 178.6 943.2 181.7 C948.8 184.8 955.9 189.9 960 193.5 C964.1 197.1 966 199.2 967.8 203.1 C969.5 207 969.8 210.9 970.4 216.9 C971.1 223 971.6 231.8 971.6 239.3 C971.6 246.7 971.3 254.4 970.4 261.6 C969.6 268.7 968.1 276.9 966.2 282.1 C964.3 287.3 961.7 290.5 958.8 292.8 C955.9 295.2 950.5 295.6 948.8 296.2"/><path d="M906.4 180.1 C905.5 182.5 902 188.5 900.8 194.6 C899.6 200.8 898.9 208.8 899 216.9 C899.2 225.1 900 235 901.9 243.3 C903.8 251.5 906.6 259.4 910.4 266.5 C914.3 273.6 920.4 280.7 925.1 286.1 C929.9 291.6 936.7 296.9 939 299.1"/><path d="M960.4 196.4 L968.9 192.4 L975.6 208 L980 216.9 L973.4 219.2 L972.9 212.5 L968.9 204.7 L965.5 202.4 L960.4 196.4" fill="#fff" stroke-width="1.3"/><path d="M965.5 202.4 L972.2 198"/><ellipse cx="910.2" cy="183.5" rx="3.04" ry="4.6" transform="rotate(-30 910.2 183.5)" stroke-width="1.2"/><ellipse cx="960.4" cy="212.5" rx="3.04" ry="4.6" transform="rotate(-30 960.4 212.5)" stroke-width="1.2"/><ellipse cx="910.2" cy="258.2" rx="3.04" ry="4.6" transform="rotate(-30 910.2 258.2)" stroke-width="1.2"/><ellipse cx="960.4" cy="286.1" rx="3.04" ry="4.6" transform="rotate(-30 960.4 286.1)" stroke-width="1.2"/><path d="M918.7 181.2 L930.9 185.3 L953.3 198 L951.5 203.6 L941 202.7 L930.9 197.3 L922.5 189.3 Z" stroke-width="1.2"/><path d="M926.5 187.9 L932.1 195.7" stroke-width="1.1"/><path d="M932.7 191.3 L938.3 198.4" stroke-width="1.1"/><path d="M939 194.6 L944.6 201.1" stroke-width="1.1"/><path d="M945.2 198 L950.8 203.8" stroke-width="1.1"/><path d="M935.4 192.4 L949.9 199.5" stroke-width="2"/><path d="M902.4 190.6 L907.1 194.6 L900.2 208.5 L899.3 200.9 Z" stroke-width="1.2"/><path d="M899.7 210.3 L913.5 216.5 L914.4 224.8 L901 227.2 Z" stroke-width="1.2"/><path d="M901.5 229.4 L915.8 235.7 L916.7 244.6 L905.1 246.4 Z" stroke-width="1.2"/><path d="M962.6 224.8 L968.9 230.3 L968.9 243.7 L963.5 239.3 Z" stroke-width="1.2"/><path d="M958.2 246.4 L972.9 254 L972.9 266.9 L958.2 258.5 Z" stroke-width="1.2"/><path d="M957.3 261.1 L972 270.5 L968.4 284.3 L955.9 274.1 Z" stroke-width="1.2"/><path d="M908.6 198 C909.9 197.2 913.8 194.1 916.4 193.5 C919 193 922.2 193.1 924.3 194.6 C926.3 196.1 927.6 200.4 928.7 202.4 C929.8 204.5 930.6 206.2 930.9 206.9" stroke-width="1.2"/><path d="M906.4 205.8 L908.6 198" stroke-width="1.2"/><path d="M906.4 205.8 L917.6 211.4" stroke-width="1.2"/><path d="M930.9 203.6 L948.8 208.5 L952.1 202.4" stroke-width="1.2"/><path d="M937.6 200.2 L952.1 205.8" stroke-width="1.2"/><ellipse cx="935.4" cy="232.6" rx="15.59" ry="27" transform="rotate(-30 935.4 232.6)" fill="#fff" stroke-width="1.3"/><ellipse cx="936.9" cy="232.6" rx="13.97" ry="24.2" transform="rotate(-30 936.9 232.6)" stroke-width="1.2"/><path d="M944.6 214 L942.7 212.8 L940.7 212 L938.8 211.5 L937 211.3 L935.3 211.5 L933.8 212.1 L932.4 212.9 L931.3 214.2 L930.4 215.7 L929.8 217.5 L929.4 219.5 L929.3 221.7 L929.4 224.1 L929.9 226.5 L930.6 229.1 L931.6 231.6 L932.7 234.1 L934.1 236.5 L935.7 238.8 L937.4 240.9 L939.3 242.8 L941.2 244.4 L943.2 245.8 L945.1 246.8 L947.1 247.5" stroke-width="1.3"/><ellipse cx="947.4" cy="228.6" rx="6.75" ry="13.5" transform="rotate(-30 947.4 228.6)" stroke-width="1.4"/><ellipse cx="947.9" cy="228.6" rx="5.50" ry="11" transform="rotate(-30 947.9 228.6)" stroke-width="1.2"/><path d="M928.7 221.4 L935.4 221.9 L932.1 231.5 L930.9 234.8" stroke-width="1.2"/><path d="M935.4 221.9 L941 225.9 L939.9 235.9" stroke-width="1.2"/><path d="M917.6 244.8 L917.6 270.5 L922.5 278.3 L926 271.6 L926 248.2" stroke-width="1.2"/><path d="M914.9 243.7 L926 239.7" stroke-width="1.2"/><path d="M920.2 248.2 L920.2 270.5" stroke-width="1.2"/><path d="M944.3 261.1 L944.3 283.9 L948.8 291 L954.2 283.9 L954.2 258.2" stroke-width="1.2"/><path d="M947 262.7 L947 283.5" stroke-width="1.2"/><path d="M942.1 260.5 L954.4 256" stroke-width="1.2"/><path d="M928.7 252.7 C929.8 253.8 933.2 258 935.4 259.4 C937.6 260.7 941 260.3 942.1 260.5" stroke-width="1.2"/><path d="M930.9 254.9 L930.9 261.6 L939.9 266 L939.9 261.1" stroke-width="1.2"/><ellipse cx="933.6" cy="285.7" rx="4.09" ry="6.2" transform="rotate(-30 933.6 285.7)" stroke-width="1.2"/><path d="M930.5 281.7 L931.6 289.5" stroke-width="1"/><path d="M932.5 282.3 L933.6 289.9" stroke-width="1"/><path d="M934.5 283 L935.6 290.4" stroke-width="1"/><path d="M936.5 283.7 L937.6 290.8" stroke-width="1"/></g>
<g id="51_bearing_tr"><path d="M944.4 86.5 L943 87.1 L941.4 87.4 L939.7 87.4 L937.9 87 L936.1 86.4 L934.2 85.5 L932.3 84.2 L930.5 82.7 L928.7 81 L927 79.1 L925.4 76.9 L924 74.7 L922.8 72.3 L921.7 69.9 L920.9 67.5 L920.3 65.1 L919.9 62.7 L919.8 60.5 L919.9 58.4 L920.3 56.4 L920.9 54.7 L921.7 53.3 L922.8 52.1 L924 51.1 L930.1 47.6 L931.5 47 L933 46.7 L934.7 46.7 L936.5 47.1 L938.4 47.7 L940.3 48.6 L942.1 49.9 L944 51.4 L945.8 53.1 L947.5 55 L949 57.2 L950.5 59.4 L951.7 61.8 L952.8 64.2 L953.6 66.6 L954.2 69 L954.6 71.4 L954.7 73.6 L954.6 75.7 L954.2 77.7 L953.6 79.4 L952.8 80.8 L951.7 82 L950.5 83 Z" fill="#fff" stroke-width="1.4"/><ellipse cx="934.2" cy="68.8" rx="11.78" ry="20.4" transform="rotate(-30 934.2 68.8)" fill="#fff" stroke-width="1.5"/><ellipse cx="934.2" cy="68.8" rx="11.25" ry="19.5" transform="rotate(-30 934.2 68.8)" stroke-width="0.9"/><ellipse cx="934.2" cy="68.8" rx="10.42" ry="18.1" transform="rotate(-30 934.2 68.8)" stroke-width="1.8"/><ellipse cx="934.2" cy="68.8" rx="7.07" ry="12.2" transform="rotate(-30 934.2 68.8)" stroke-width="1.7"/><ellipse cx="934.2" cy="68.8" rx="6.36" ry="11" transform="rotate(-30 934.2 68.8)" stroke-width="0.9"/><ellipse cx="934.8" cy="68.6" rx="5.42" ry="9.4" transform="rotate(-30 934.8 68.6)" stroke-width="1.2"/><ellipse cx="943" cy="81" rx="1.61" ry="2.1" transform="rotate(-30 943 81)" stroke-width="0.9"/><ellipse cx="944.9" cy="75.5" rx="1.61" ry="2.1" transform="rotate(-30 944.9 75.5)" stroke-width="0.9"/><ellipse cx="943.5" cy="67.9" rx="1.61" ry="2.1" transform="rotate(-30 943.5 67.9)" stroke-width="0.9"/><ellipse cx="939" cy="60.5" rx="1.61" ry="2.1" transform="rotate(-30 939 60.5)" stroke-width="0.9"/><ellipse cx="933.1" cy="55.8" rx="1.61" ry="2.1" transform="rotate(-30 933.1 55.8)" stroke-width="0.9"/><ellipse cx="927.5" cy="55.2" rx="1.61" ry="2.1" transform="rotate(-30 927.5 55.2)" stroke-width="0.9"/><ellipse cx="924" cy="59" rx="1.61" ry="2.1" transform="rotate(-30 924 59)" stroke-width="0.9"/><ellipse cx="923.8" cy="65.8" rx="1.61" ry="2.1" transform="rotate(-30 923.8 65.8)" stroke-width="0.9"/><ellipse cx="926.8" cy="73.6" rx="1.61" ry="2.1" transform="rotate(-30 926.8 73.6)" stroke-width="0.9"/><ellipse cx="932.3" cy="79.9" rx="1.61" ry="2.1" transform="rotate(-30 932.3 79.9)" stroke-width="0.9"/><ellipse cx="938.3" cy="82.6" rx="1.61" ry="2.1" transform="rotate(-30 938.3 82.6)" stroke-width="0.9"/><path d="M935 59.8 L934.1 59.6 L933.3 59.6 L932.6 59.8 L931.9 60.2 L931.3 60.7 L930.9 61.4 L930.6 62.2 L930.4 63.1 L930.3 64.1 L930.4 65.2 L930.6 66.4 L930.9 67.6 L931.3 68.7 L931.9 69.9 L932.6 71 L933.3 72.1 L934.1 73.1 L935 73.9"/></g>
<g id="52_capscrew_r"><path d="M976 155.3 L975.3 155.6 L974.6 155.8 L973.8 155.8 L973 155.6 L972.2 155.3 L971.3 154.9 L970.4 154.3 L969.6 153.6 L968.8 152.8 L968 151.9 L967.3 151 L966.6 149.9 L966 148.8 L965.5 147.7 L965.2 146.6 L964.9 145.5 L964.7 144.4 L964.7 143.4 L964.7 142.4 L964.9 141.5 L965.2 140.7 L965.5 140 L966 139.5 L966.6 139.1 L971.4 136.3 L972 136 L972.7 135.9 L973.5 135.9 L974.3 136 L975.2 136.3 L976.1 136.8 L976.9 137.3 L977.8 138 L978.6 138.8 L979.4 139.7 L980.1 140.7 L980.8 141.7 L981.3 142.8 L981.8 143.9 L982.2 145.1 L982.5 146.2 L982.7 147.3 L982.7 148.3 L982.7 149.3 L982.5 150.1 L982.2 150.9 L981.8 151.6 L981.3 152.2 L980.8 152.6 Z" fill="#fff"/><ellipse cx="971.3" cy="147.2" rx="5.43" ry="9.4" transform="rotate(-30 971.3 147.2)" fill="#fff"/><path d="M966.8 140.9 L966.6 141.7 L966.4 142.5 L966.3 143.4 L966.4 144.4 L966.5 145.4 L966.8 146.4 L967.2 147.5 L967.7 148.5 L968.2 149.6 L968.9 150.5 L969.6 151.4 L970.4 152.2 L971.2 152.9 L972 153.4 L972.8 153.8 L973.6 154.1"/><path d="M958.5 161.7 L958.1 161.9 L957.7 161.9 L957.2 161.9 L956.7 161.8 L956.2 161.7 L955.7 161.4 L955.2 161.1 L954.7 160.7 L954.2 160.2 L953.7 159.6 L953.3 159.1 L952.9 158.4 L952.6 157.8 L952.3 157.1 L952.1 156.5 L951.9 155.8 L951.8 155.2 L951.8 154.5 L951.8 154 L951.9 153.4 L952.1 153 L952.3 152.6 L952.6 152.2 L952.9 152 L967.6 143.5 L968 143.3 L968.5 143.2 L968.9 143.2 L969.4 143.3 L969.9 143.5 L970.4 143.8 L971 144.1 L971.5 144.5 L972 145 L972.4 145.5 L972.9 146.1 L973.2 146.7 L973.6 147.4 L973.9 148 L974.1 148.7 L974.3 149.4 L974.4 150 L974.4 150.6 L974.4 151.2 L974.3 151.7 L974.1 152.2 L973.9 152.6 L973.6 152.9 L973.2 153.2 Z" fill="#fff"/><ellipse cx="955.7" cy="156.8" rx="3.23" ry="5.6" transform="rotate(-30 955.7 156.8)" fill="#fff"/><path d="M952 159.3 L929.4 172.1"/></g>
<g id="60_anvil"><path d="M345.9 270.2 L344.8 270.7 L343.5 271 L342.1 271 L340.7 270.7 L339.2 270.2 L337.7 269.4 L336.1 268.4 L334.6 267.2 L333.2 265.8 L331.8 264.3 L330.6 262.5 L329.4 260.7 L328.4 258.8 L327.6 256.9 L326.9 254.9 L326.4 252.9 L326.1 251 L326 249.2 L326.1 247.5 L326.4 246 L326.9 244.6 L327.6 243.4 L328.4 242.4 L329.4 241.7 L332.2 240.1 L333.3 239.6 L334.6 239.3 L336 239.3 L337.4 239.6 L338.9 240.1 L340.4 240.9 L342 241.9 L343.5 243.1 L344.9 244.5 L346.3 246.1 L347.5 247.8 L348.7 249.6 L349.7 251.5 L350.5 253.5 L351.2 255.4 L351.7 257.4 L352 259.3 L352.1 261.1 L352 262.8 L351.7 264.4 L351.2 265.7 L350.5 266.9 L349.7 267.9 L348.7 268.6 Z" fill="#fff" stroke-width="1.2"/><ellipse cx="337.7" cy="256" rx="9.53" ry="16.5" transform="rotate(-30 337.7 256)" fill="#fff" stroke-width="1.3"/><path d="M343.3 251.2 L342 249.5 L340.7 247.9 L339.3 246.5 L337.8 245.3 L336.3 244.3 L334.8 243.6 L333.3 243.1 L331.9 243 L330.6 243.1 L329.4 243.5 L328.3 244.1 L327.4 245 L326.7 246.2 L326.2 247.5 L325.9 249.1 L325.9 250.8 L326 252.6 L326.4 254.5 L326.9 256.5 L327.7 258.4 L328.6 260.3 L329.7 262.2 L330.9 263.9 L332.3 265.5 L333.7 266.9"/><path d="M323.5 279.4 L322.6 279.8 L321.5 280 L320.4 280 L319.3 279.8 L318.1 279.3 L316.9 278.7 L315.7 277.9 L314.5 277 L313.3 275.9 L312.2 274.6 L311.2 273.2 L310.3 271.8 L309.5 270.2 L308.8 268.7 L308.3 267.1 L307.9 265.5 L307.6 264 L307.5 262.6 L307.6 261.2 L307.9 260 L308.3 258.9 L308.8 257.9 L309.5 257.1 L310.3 256.5 L331.1 244.5 L332 244.1 L333 243.9 L334.1 243.9 L335.2 244.2 L336.4 244.6 L337.7 245.2 L338.9 246 L340.1 246.9 L341.2 248.1 L342.3 249.3 L343.3 250.7 L344.3 252.1 L345.1 253.7 L345.7 255.2 L346.3 256.8 L346.7 258.4 L346.9 259.9 L347 261.3 L346.9 262.7 L346.7 264 L346.3 265.1 L345.7 266 L345.1 266.8 L344.3 267.4 Z" fill="#fff"/><path d="M321.3 280.8 L328 276.9 L342.5 269.1 L345.3 274.1 L330.8 284.2 L324.7 282.1 Z" fill="#fff"/><path d="M328 276.9 L330.8 284.2"/><path d="M328.9 277.7 L343.4 269.9"/><path d="M342.5 269.1 L341.4 267.2 L332.5 271.9"/><path d="M310.3 298.6 L308.7 299.3 L306.9 299.6 L305 299.6 L302.9 299.2 L300.8 298.5 L298.7 297.4 L296.5 296 L294.4 294.3 L292.4 292.3 L290.5 290.1 L288.7 287.7 L287.1 285.2 L285.7 282.5 L284.5 279.7 L283.5 277 L282.8 274.2 L282.4 271.5 L282.3 269 L282.4 266.6 L282.8 264.4 L283.5 262.5 L284.5 260.8 L285.7 259.4 L287.1 258.4 L292.3 255.4 L293.9 254.7 L295.7 254.3 L297.6 254.3 L299.6 254.7 L301.7 255.4 L303.9 256.5 L306 257.9 L308.1 259.6 L310.2 261.6 L312.1 263.8 L313.9 266.2 L315.5 268.8 L316.9 271.4 L318.1 274.2 L319 277 L319.7 279.7 L320.2 282.4 L320.3 284.9 L320.2 287.3 L319.7 289.5 L319 291.5 L318.1 293.1 L316.9 294.5 L315.5 295.6 Z" fill="#fff"/><path d="M287.1 258.4 L310.4 244.9 L318 247.1 L323.6 251.6 L327.5 257.4 L327.5 261.8 L313 269.1 L312.4 271.9 L314.6 275.2 L319.1 275.8 L320.4 278.6 L303.5 277.5 Z" fill="#fff" stroke="none"/><path d="M287.1 258.4 L310.4 244.9"/><path d="M310.4 244.9 C311.1 245 313.2 244.9 314.6 245.4 C316.1 245.9 317.6 246.8 319.1 247.9 C320.6 249 322.4 250.4 323.8 252 C325.2 253.6 326.9 256.7 327.5 257.6"/><path d="M327.5 257.6 L327.5 261.8"/><path d="M327.5 261.8 L313 269.1" stroke-width="1.6"/><path d="M326.9 259.8 L313.8 266.5"/><path d="M313 269.1 C312.8 269.6 311.9 271.1 312.2 272.1 C312.5 273.1 313.5 274.6 314.6 275.2 C315.8 275.8 318.1 275.2 319.1 275.8 C320.1 276.4 320.2 278.3 320.4 278.8"/><ellipse cx="298.7" cy="278.5" rx="13.39" ry="23.2" transform="rotate(-30 298.7 278.5)" fill="#fff" stroke-width="1.4"/><path d="M308.9 297.4 L310.6 296.8 L312.1 295.8 L313.4 294.5 L314.3 292.8 L315 290.8 L315.4 288.5 L315.5 286.1 L315.3 283.4 L314.7 280.7 L313.9 277.9 L312.8 275.1 L311.5 272.3 L309.9 269.6 L308.1 267.2 L306.1 264.9 L304.1 262.9 L301.9 261.2 L299.8 259.8 L297.6 258.7 L295.5 258.1 L293.4 257.9 L291.5 258 L289.8 258.6 L288.3 259.5"/><path d="M278.7 309.9 L277.5 310.4 L276.2 310.6 L274.8 310.6 L273.3 310.3 L271.7 309.8 L270.1 309 L268.5 308 L267 306.7 L265.5 305.2 L264 303.6 L262.7 301.8 L261.5 299.9 L260.5 297.9 L259.6 295.9 L258.9 293.8 L258.4 291.8 L258.1 289.8 L257.9 287.9 L258.1 286.2 L258.4 284.5 L258.9 283.1 L259.6 281.9 L260.5 280.8 L261.5 280.1 L291 263.1 L292.2 262.5 L293.5 262.3 L294.9 262.3 L296.4 262.6 L298 263.1 L299.6 263.9 L301.1 265 L302.7 266.2 L304.2 267.7 L305.6 269.3 L307 271.1 L308.2 273 L309.2 275 L310.1 277 L310.8 279.1 L311.3 281.1 L311.6 283.1 L311.7 285 L311.6 286.8 L311.3 288.4 L310.8 289.8 L310.1 291.1 L309.2 292.1 L308.2 292.9 Z" fill="#fff"/><path d="M238.1 294.4 L239.6 292.4 L266.4 276.8 L285.3 286.6 L284.8 300.4 L279 310.5 L257.6 323 L255.6 323.5 L239.6 313.5 L238.1 311 Z" fill="#fff"/><path d="M257.6 303.9 L278.2 291.9"/><path d="M239.6 292.4 L256.1 301.4 L257.6 303.9 L257.6 323"/><path d="M278.2 291.9 C279.1 292.7 282.3 294.8 283.2 296.7 C284.2 298.5 284.7 300.6 284 302.9 C283.3 305.2 279.8 309.2 279 310.5"/><path d="M258.9 281.3 C259.5 281.9 260.9 284 262.7 284.9 C264.5 285.7 267.6 286.7 269.7 286.6 C271.8 286.5 274 285.3 275.2 284.1 C276.5 282.9 276.9 280.1 277.2 279.3"/><path d="M275.2 284.1 L278.2 291.9"/><ellipse cx="264.7" cy="309.5" rx="1.95" ry="2.6" transform="rotate(-30 264.7 309.5)"/><ellipse cx="247.6" cy="307.5" rx="1.12" ry="1.6" transform="rotate(-30 247.6 307.5)"/></g>
<g id="61_pins2"><path d="M398.3 197.2 L398 197.3 L397.6 197.4 L397.2 197.4 L396.8 197.3 L396.4 197.2 L396 197 L395.6 196.7 L395.2 196.3 L394.8 196 L394.4 195.5 L394 195 L393.7 194.5 L393.4 194 L393.2 193.5 L393 192.9 L392.9 192.4 L392.8 191.8 L392.7 191.3 L392.8 190.8 L392.9 190.4 L393 190 L393.2 189.7 L393.4 189.4 L393.7 189.2 L445.7 159.2 L446 159.1 L446.3 159 L446.7 159 L447.1 159.1 L447.5 159.2 L448 159.4 L448.4 159.7 L448.8 160.1 L449.2 160.4 L449.6 160.9 L449.9 161.4 L450.3 161.9 L450.5 162.4 L450.8 162.9 L451 163.5 L451.1 164 L451.2 164.6 L451.2 165.1 L451.2 165.6 L451.1 166 L451 166.4 L450.8 166.7 L450.5 167 L450.3 167.2 Z" fill="#fff"/><ellipse cx="396" cy="193.2" rx="2.66" ry="4.6" transform="rotate(-30 396 193.2)" fill="#fff"/><path d="M399.1 253.6 L398.8 253.7 L398.4 253.8 L398 253.8 L397.6 253.7 L397.2 253.6 L396.8 253.4 L396.4 253.1 L396 252.7 L395.6 252.4 L395.2 251.9 L394.8 251.4 L394.5 250.9 L394.2 250.4 L394 249.9 L393.8 249.3 L393.7 248.8 L393.6 248.2 L393.5 247.7 L393.6 247.2 L393.7 246.8 L393.8 246.4 L394 246.1 L394.2 245.8 L394.5 245.6 L446.5 215.6 L446.8 215.5 L447.1 215.4 L447.5 215.4 L447.9 215.5 L448.3 215.6 L448.8 215.8 L449.2 216.1 L449.6 216.5 L450 216.8 L450.4 217.3 L450.7 217.8 L451.1 218.3 L451.3 218.8 L451.6 219.3 L451.8 219.9 L451.9 220.4 L452 221 L452 221.5 L452 222 L451.9 222.4 L451.8 222.8 L451.6 223.1 L451.3 223.4 L451.1 223.6 Z" fill="#fff"/><ellipse cx="396.8" cy="249.6" rx="2.66" ry="4.6" transform="rotate(-30 396.8 249.6)" fill="#fff"/></g>
<g id="62_cylinder"><path d="M502.4 374.2 L499 375.7 L495.3 376.4 L491.2 376.4 L486.9 375.6 L482.5 374 L478 371.8 L473.5 368.8 L469.1 365.3 L464.8 361.1 L460.8 356.5 L457 351.4 L453.6 346 L450.6 340.4 L448.1 334.6 L446.1 328.8 L444.7 323 L443.8 317.4 L443.5 312 L443.8 307 L444.7 302.4 L446.1 298.3 L448.1 294.7 L450.6 291.9 L453.6 289.7 L486.8 270.5 L490.2 269 L493.9 268.3 L498 268.3 L502.2 269.1 L506.7 270.7 L511.2 272.9 L515.7 275.9 L520.1 279.4 L524.4 283.6 L528.4 288.2 L532.2 293.3 L535.6 298.7 L538.6 304.3 L541.1 310.1 L543.1 315.9 L544.5 321.7 L545.4 327.3 L545.7 332.7 L545.4 337.7 L544.5 342.3 L543.1 346.4 L541.1 349.9 L538.6 352.8 L535.6 355 Z" fill="#fff"/><ellipse cx="478" cy="331.9" rx="28.17" ry="48.8" transform="rotate(-30 478 331.9)" fill="#fff"/><ellipse cx="478.3" cy="332.1" rx="27.19" ry="47.1" transform="rotate(-30 478.3 332.1)"/><path d="M452.4 323.9 C452.5 322.4 452.5 318 453.1 315.2 C453.7 312.4 454.5 309.4 455.9 307.2 C457.3 304.9 458.9 302.6 461.4 301.5 C464 300.3 469.4 300.5 471 300.3"/><path d="M471 300.3 L470.5 295.4"/><path d="M470.5 295.4 C470.8 296.4 471.5 299.5 472.7 301 C473.9 302.4 475.6 303.3 477.7 304.3 C479.8 305.3 484 306.7 485.2 307.2"/><path d="M485.2 307.2 C485.5 306.7 486.4 304.7 487.2 304.5 C488.1 304.3 488.5 304.3 490.2 305.8 C492 307.4 495.5 310.6 497.8 313.8 C500 317.1 502.3 321.1 504 325.2 C505.7 329.4 507.1 334.4 508 338.6 C508.8 342.8 509.1 347.2 509 350.3 C508.9 353.5 507.6 356.2 507.3 357.4" stroke-width="1.2"/><path d="M491.6 305.1 C493 306.7 497.5 311 499.9 314.5 C502.3 318 504.3 322 506 326.1 C507.6 330.1 508.9 335.2 509.6 339 C510.4 342.7 510.2 347 510.3 348.7"/><path d="M485.7 307.2 C485.6 308.6 484.9 312.9 485.2 316 C485.5 319.2 486.3 322.6 487.7 326.1 C489.1 329.6 491.3 333.8 493.6 336.9 C495.8 340.1 498.8 343.1 501.1 345 C503.4 346.9 506.3 347.8 507.3 348.3" stroke-width="1.1"/><path d="M507.3 348.3 C507.5 349.2 508.4 352.2 508.3 353.7 C508.2 355.2 506.9 356.8 506.6 357.4"/><ellipse cx="491.2" cy="309.5" rx="1.4" ry="2.0" transform="rotate(-30 491.2 309.5)" stroke-width="0.9"/><ellipse cx="495.3" cy="314" rx="1.4" ry="2.0" transform="rotate(-30 495.3 314)" stroke-width="0.9"/><ellipse cx="499.3" cy="319.2" rx="1.4" ry="2.0" transform="rotate(-30 499.3 319.2)" stroke-width="0.9"/><path d="M449.1 303.5 C449.4 301.6 449.8 301.6 450.4 301.5 C451 301.4 451.9 301.1 452.4 302.8 C452.9 304.5 453.3 308.8 453.4 311.8 C453.5 314.9 453.4 319 453.1 321 C452.7 323.1 452 323.7 451.4 323.9 C450.8 324.1 449.9 324.1 449.4 322.2 C448.9 320.3 448.4 315.8 448.4 312.7 C448.3 309.6 448.7 305.3 449.1 303.5 Z" stroke-width="1.4"/><path d="M451.1 304.3 C451.2 305.7 451.7 310 451.7 312.7 C451.8 315.3 451.5 319 451.4 320.2"/><ellipse cx="461.8" cy="295.4" rx="1.7" ry="2.6" transform="rotate(-20 461.8 295.4)" stroke-width="1.1"/><ellipse cx="465.6" cy="295.4" rx="1.7" ry="2.6" transform="rotate(-20 465.6 295.4)" stroke-width="1.1"/><path d="M458.4 293.4 C459.1 293.1 461.1 291.5 462.6 291.4 C464.1 291.4 466.5 292.2 467.6 293.1 C468.8 294 469 296.2 469.3 296.8"/><ellipse cx="477.8" cy="298.8" rx="2.2" ry="3.1" transform="rotate(-25 477.8 298.8)"/><ellipse cx="485.2" cy="364.6" rx="3.9" ry="2.4" transform="rotate(-22 485.2 364.6)" stroke-width="1.1"/><ellipse cx="485.5" cy="364.9" rx="2.6" ry="1.3" transform="rotate(-22 485.5 364.9)" stroke-width="0.9"/><ellipse cx="493.9" cy="359.5" rx="3.9" ry="2.4" transform="rotate(-22 493.9 359.5)" stroke-width="1.1"/><ellipse cx="494.2" cy="359.9" rx="2.6" ry="1.3" transform="rotate(-22 494.2 359.9)" stroke-width="0.9"/><ellipse cx="503.3" cy="354.2" rx="3.9" ry="2.4" transform="rotate(-22 503.3 354.2)" stroke-width="1.1"/><ellipse cx="503.6" cy="354.5" rx="2.6" ry="1.3" transform="rotate(-22 503.6 354.5)" stroke-width="0.9"/></g>
<g id="63_frontplate"><path d="M419.5 420.7 L416.1 422.2 L412.4 422.9 L408.3 422.9 L404.1 422.1 L399.6 420.5 L395.2 418.3 L390.7 415.4 L386.2 411.8 L382 407.7 L377.9 403 L374.2 398 L370.8 392.6 L367.8 387 L365.3 381.2 L363.3 375.4 L361.9 369.6 L361 364 L360.7 358.6 L361 353.6 L361.9 349 L363.3 344.9 L365.3 341.4 L367.8 338.6 L370.8 336.4 L376.2 333.3 L379.6 331.8 L383.3 331.1 L387.3 331.1 L391.6 331.9 L396 333.4 L400.5 335.7 L405 338.6 L409.4 342.2 L413.7 346.3 L417.7 350.9 L421.5 356 L424.9 361.4 L427.8 367 L430.3 372.8 L432.3 378.6 L433.8 384.3 L434.7 389.9 L435 395.3 L434.7 400.3 L433.8 404.9 L432.3 409 L430.3 412.5 L427.8 415.4 L424.9 417.6 Z" fill="#fff"/><ellipse cx="395.2" cy="378.5" rx="28.12" ry="48.7" transform="rotate(-30 395.2 378.5)" fill="#fff"/><path d="M369.9 337.4 L367 340.3 L364.7 344 L363.1 348.4 L362.1 353.5 L361.9 359 L362.3 364.9 L363.4 371.1 L365.3 377.4 L367.7 383.7 L370.7 389.9 L374.3 395.9 L378.3 401.5 L382.6 406.6 L387.3 411.2"/><ellipse cx="393.1" cy="381.5" rx="19.80" ry="34.3" transform="rotate(-30 393.1 381.5)" stroke-width="1.5"/><ellipse cx="393.9" cy="381.3" rx="18.48" ry="32" transform="rotate(-30 393.9 381.3)"/><ellipse cx="398.7" cy="380.5" rx="16.63" ry="28.8" transform="rotate(-30 398.7 380.5)" stroke-width="1.5"/><path d="M410.8 368.4 L408.4 365.4 L405.9 362.7 L403.3 360.4 L400.6 358.5 L397.9 357.1 L395.2 356.1 L392.6 355.6 L390.2 355.6 L388 356.1 L386 357.1 L384.3 358.6 L382.9 360.5 L381.9 362.8 L381.2 365.4 L381 368.4 L381.1 371.6 L381.6 374.9 L382.4 378.4 L383.7 381.9 L385.2 385.4 L387.1 388.7 L389.2 391.9 L391.6 394.8 L394.1 397.5 L396.7 399.7 L399.4 401.6 L402.1 403 L404.8 404"/><path d="M408.8 370.8 L407 368.5 L405 366.4 L402.9 364.6 L400.8 363.1 L398.7 361.9 L396.6 361.1 L394.5 360.7 L392.6 360.7 L390.9 361.1 L389.3 361.8 L387.9 363 L386.8 364.4 L386 366.2 L385.5 368.3 L385.2 370.6 L385.3 373.1 L385.6 375.7 L386.3 378.5 L387.2 381.2 L388.4 383.9 L389.9 386.6 L391.5 389.1 L393.4 391.4 L395.3 393.5 L397.4 395.4 L399.5 396.9 L401.6 398.1 L403.7 398.9 L405.8 399.3 L407.7 399.3" stroke-width="1.3"/><path d="M402.9 365 L401.1 364 L399.3 363.2 L397.6 362.7 L396 362.6 L394.4 362.8 L393 363.3 L391.8 364.1 L390.8 365.2 L390 366.6 L389.4 368.2 L389 370 L388.9 372 L389.1 374.2 L389.5 376.4 L390.1 378.7 L391 381.1 L392.1 383.3 L393.4 385.5 L394.8 387.6 L396.4 389.5 L398 391.2 L399.8 392.7 L401.6 393.9 L403.4 394.9 L405.1 395.5"/><ellipse cx="396.8" cy="374.6" rx="6.35" ry="11" transform="rotate(-30 396.8 374.6)" stroke-width="1.3"/><path d="M397.8 365.7 L396.8 365.3 L395.9 365.1 L395 365.1 L394.2 365.2 L393.5 365.6 L392.9 366.1 L392.4 366.7 L392 367.6 L391.7 368.5 L391.6 369.6 L391.6 370.7 L391.8 371.9 L392.1 373.2 L392.6 374.4 L393.1 375.7 L393.8 376.9 L394.5 378 L395.4 379.1 L396.3 380 L397.2 380.9 L398.2 381.5 L399.2 382 L400.2 382.4"/><path d="M396.8 388.6 L396.8 400.6" stroke-width="1.2"/><path d="M399.3 387.7 L399.3 401.3" stroke-width="1.2"/><path d="M399.3 394.4 C400.2 394.5 402.7 395.2 404.3 394.9 C406 394.6 407.8 394 409.4 392.7 C410.9 391.5 412.8 388.1 413.5 387.2"/><path d="M399.3 398.6 C400.4 398.6 404 399.1 406 398.6 C408.1 398.1 410.6 396.1 411.5 395.6"/><ellipse cx="416.6" cy="352.9" rx="0.52" ry="0.9" transform="rotate(-30 416.6 352.9)"/><ellipse cx="423.6" cy="363.1" rx="0.52" ry="0.9" transform="rotate(-30 423.6 363.1)"/></g>
<g id="64_rotor"><path d="M607.1 294.8 L604.9 295.8 L602.4 296.3 L599.7 296.2 L596.9 295.7 L594 294.7 L591 293.2 L588 291.3 L585.1 288.9 L582.3 286.2 L579.6 283.1 L577.1 279.8 L574.9 276.2 L572.9 272.5 L571.3 268.7 L570 264.8 L569 261 L568.4 257.3 L568.2 253.8 L568.4 250.5 L569 247.4 L570 244.7 L571.3 242.4 L572.9 240.5 L574.9 239 L610.2 218.7 L612.4 217.7 L614.9 217.2 L617.5 217.3 L620.4 217.8 L623.3 218.8 L626.3 220.3 L629.2 222.2 L632.1 224.6 L635 227.3 L637.6 230.4 L640.1 233.7 L642.3 237.3 L644.3 241 L646 244.8 L647.3 248.7 L648.2 252.5 L648.8 256.2 L649 259.7 L648.8 263 L648.2 266.1 L647.3 268.8 L646 271.1 L644.3 273 L642.4 274.5 Z" fill="#fff"/><ellipse cx="591" cy="266.9" rx="18.59" ry="32.2" transform="rotate(-30 591 266.9)" fill="#fff"/><path d="M589.7 253.9 L589.7 239.3 L619.5 220.4"/><path d="M593.8 255.2 L593.8 241.5 L623.6 222.6"/><path d="M591.8 240.5 L621.6 221.7" stroke-width="1.6"/><path d="M619.5 220.4 L623.6 222.6"/><path d="M600.2 263.2 L613.6 263.9 L642.4 245.2"/><path d="M600.5 267.3 L615.3 268.6 L646.7 249.9"/><path d="M614.6 266.3 L644.7 247.5" stroke-width="1.5"/><path d="M642.4 245.2 L646.7 249.9"/><path d="M590.2 278.6 L590.2 288.3"/><path d="M593.8 280 L593.8 292.7"/><path d="M571.8 243.2 L581.5 255.5"/><path d="M569.4 247.2 L579.5 258.2"/><path d="M599.9 280.6 L612.3 289"/><path d="M601.2 276.6 L614.6 285"/><path d="M614.6 287 L643.7 270.6" stroke-width="1.8"/><path d="M612.3 289 L616.9 286.3"/><path d="M599.7 269.9 L599.2 268.1 L598.6 266.2 L597.7 264.4 L596.7 262.6 L595.6 260.9 L594.4 259.4 L593.1 258 L591.7 256.8 L590.3 255.8 L588.8 255 L587.4 254.4 L586.1 254.2 L584.8 254.1 L583.6 254.4 L582.5 254.9 L581.6 255.6 L580.8 256.5 L580.3 257.7 L579.9 259.1 L579.7 260.6 L579.7 262.3 L579.9 264 L580.3 265.8 L580.9 267.7 L581.6 269.5 L582.6 271.3 L583.6 273 L584.8 274.6 L586.1 276.1 L587.5 277.3 L588.9 278.4 L590.3 279.3 L591.7 279.9 L593.1 280.3 L594.4 280.4 L595.7 280.3" stroke-width="1.6"/><path d="M573.3 289.3 L572.5 289.7 L571.6 289.9 L570.7 289.9 L569.7 289.7 L568.6 289.3 L567.6 288.8 L566.5 288.1 L565.5 287.3 L564.5 286.3 L563.5 285.2 L562.7 284 L561.9 282.8 L561.2 281.5 L560.6 280.1 L560.1 278.7 L559.8 277.4 L559.6 276.1 L559.5 274.8 L559.6 273.6 L559.8 272.6 L560.1 271.6 L560.6 270.8 L561.2 270.1 L561.9 269.6 L578.3 260.1 L579.1 259.8 L580 259.6 L580.9 259.6 L581.9 259.8 L583 260.1 L584 260.7 L585.1 261.4 L586.1 262.2 L587.1 263.2 L588.1 264.2 L588.9 265.4 L589.7 266.7 L590.4 268 L591 269.4 L591.5 270.7 L591.8 272.1 L592 273.4 L592.1 274.6 L592 275.8 L591.8 276.9 L591.5 277.8 L591 278.7 L590.4 279.3 L589.7 279.8 Z" fill="#fff"/><path d="M578.3 260.1 L577.6 260.7 L577 261.4 L576.5 262.4 L576.2 263.5 L576 264.7 L576 266 L576.2 267.4 L576.5 268.9 L577 270.4 L577.6 271.8 L578.3 273.3 L579.2 274.6 L580.2 275.9 L581.2 277.1 L582.3 278.1 L583.5 278.9 L584.6 279.6 L585.7 280.1 L586.8 280.3 L587.9 280.4 L588.9 280.2 L589.7 279.8" stroke-width="1.1"/><ellipse cx="567.6" cy="279.5" rx="6.58" ry="11.4" transform="rotate(-30 567.6 279.5)" fill="#fff" stroke-width="1.2"/><ellipse cx="567.6" cy="279.5" rx="5.43" ry="9.4" transform="rotate(-30 567.6 279.5)"/><path d="M571.7 273.9 L588.2 264.4" stroke-width="1.0"/><path d="M571.7 273.9 L570.4 274.1" stroke-width="0.7"/><path d="M570.1 272.1 L586.5 262.6" stroke-width="1.0"/><path d="M570.1 272.1 L569 272.8" stroke-width="0.7"/><path d="M568.3 270.6 L584.7 261.1" stroke-width="1.0"/><path d="M568.3 270.6 L567.5 271.7" stroke-width="0.7"/><path d="M566.5 269.6 L582.9 260.1" stroke-width="1.0"/><path d="M566.5 269.6 L566 271.1" stroke-width="0.7"/><path d="M564.7 269.1 L581.1 259.6" stroke-width="1.0"/><path d="M564.7 269.1 L564.6 270.9" stroke-width="0.7"/><path d="M563.1 269.2 L579.5 259.7" stroke-width="1.0"/><path d="M563.1 269.2 L563.3 271.1" stroke-width="0.7"/><path d="M561.7 269.7 L578.1 260.2" stroke-width="1.0"/><path d="M561.7 269.7 L562.3 271.8" stroke-width="0.7"/><path d="M560.6 270.8 L577 261.3" stroke-width="1.0"/><path d="M560.6 270.8 L561.5 272.8" stroke-width="0.7"/><path d="M559.9 272.3 L576.3 262.8" stroke-width="1.0"/><path d="M559.9 272.3 L561 274.2" stroke-width="0.7"/><path d="M559.5 274.2 L576 264.7" stroke-width="1.0"/><path d="M559.5 274.2 L560.9 275.9" stroke-width="0.7"/><path d="M559.6 276.3 L576.1 266.8" stroke-width="1.0"/><path d="M559.6 276.3 L561.2 277.8" stroke-width="0.7"/><path d="M560.1 278.6 L576.6 269.1" stroke-width="1.0"/><path d="M560.1 278.6 L561.7 279.7" stroke-width="0.7"/><path d="M561 281 L577.4 271.5" stroke-width="1.0"/><path d="M561 281 L562.6 281.6" stroke-width="0.7"/><path d="M562.2 283.3 L578.6 273.8" stroke-width="1.0"/><path d="M562.2 283.3 L563.7 283.4" stroke-width="0.7"/><path d="M563.7 285.4 L580.1 275.9" stroke-width="1.0"/><path d="M563.7 285.4 L565 285" stroke-width="0.7"/><path d="M565.4 287.1 L581.8 277.6" stroke-width="1.0"/><path d="M565.4 287.1 L566.4 286.4" stroke-width="0.7"/><ellipse cx="567.6" cy="279.5" rx="1.05" ry="1.5" transform="rotate(-30 567.6 279.5)"/></g>
<g id="70_rearplate"><path d="M644.4 326.1 C649.5 326.1 659.5 329.7 668 334.5 C676.4 339.2 688.7 349 695.2 354.4 C701.7 359.8 704.1 361.7 706.8 367.1 C709.5 372.5 710.5 378.9 711.5 387.1 C712.5 395.2 713.4 407.3 712.6 416.1 C711.8 424.8 709.1 434.5 706.8 439.6 C704.5 444.8 702 445.5 698.8 446.9 C695.7 448.3 690.7 447.2 687.9 448 C685.2 448.8 684.9 451.2 682.5 451.6 C680.1 452 676.7 452.5 673.4 450.5 C670.1 448.5 666.8 444.8 662.5 439.6 C658.3 434.5 652.3 427.9 648 419.7 C643.8 411.5 639.6 401 637.2 390.7 C634.7 380.4 633.5 367.4 633.5 358 C633.5 348.7 635.3 339.8 637.2 334.5 C639 329.1 639.3 326.1 644.4 326.1 Z" fill="#fff" stroke-width="1.2"/><ellipse cx="672.7" cy="385.2" rx="14.43" ry="25" transform="rotate(-30 672.7 385.2)" stroke-width="1.2"/><ellipse cx="648" cy="335.2" rx="3.17" ry="4.8" transform="rotate(-30 648 335.2)"/><ellipse cx="698.1" cy="364.6" rx="3.17" ry="4.8" transform="rotate(-30 698.1 364.6)"/><ellipse cx="646.9" cy="408.8" rx="3.17" ry="4.8" transform="rotate(-30 646.9 408.8)"/><ellipse cx="698.1" cy="437.8" rx="3.17" ry="4.8" transform="rotate(-30 698.1 437.8)"/><ellipse cx="672.7" cy="437.1" rx="4.20" ry="6" transform="rotate(-30 672.7 437.1)"/><ellipse cx="672.7" cy="351.5" rx="1.82" ry="2.6" transform="rotate(-30 672.7 351.5)"/><path d="M645 356.3 C645.2 354.7 645.8 351.9 647.2 350.3 C648.6 348.7 651.3 347.3 653.5 346.7 C655.6 346.1 658.6 346.3 660.2 346.7 C661.7 347.1 662.6 348 662.8 348.9 C663.1 349.8 662.7 351.5 661.5 352 C660.3 352.6 657.4 351.9 655.7 352.5 C654 353.1 652.4 354.4 651.2 355.6 C650.1 356.8 649.9 359 649 359.6 C648.1 360.3 646.6 360.2 645.9 359.6 C645.2 359.1 644.8 357.8 645 356.3 Z"/><path d="M682.5 360.9 C682.7 360.2 683.2 359 685 360.9 C686.8 362.9 691 368.2 693.4 372.5 C695.8 376.9 698.8 384.3 699.5 387.1 C700.3 389.8 699.5 390.7 698.1 389.2 C696.6 387.7 693.3 382 690.8 378 C688.4 374 685 368.1 683.6 365.3 C682.2 362.4 682.3 361.7 682.5 360.9 Z"/><path d="M657 414.5 L665.7 422.6 L662.4 428.4 L655.7 419.9 Z"/><path d="M680.7 432.4 C681.3 431.3 683.5 430.8 684.7 430.6 C686 430.4 687.5 430.2 688.3 431 C689.1 431.9 689.2 434 689.4 435.5 C689.6 437 690.2 438.9 689.6 440 C689.1 441 687.2 441.4 686.1 441.8 C684.9 442.1 683.3 442.9 682.5 442.2 C681.7 441.5 681.4 438.9 681.1 437.3 C680.8 435.7 680.1 433.5 680.7 432.4 Z"/></g>
<g id="71_orings"><ellipse cx="746.7" cy="342.3" rx="14.55" ry="25.2" transform="rotate(-30 746.7 342.3)" stroke-width="1.2"/><ellipse cx="746.7" cy="342.3" rx="13.51" ry="23.4" transform="rotate(-30 746.7 342.3)"/><ellipse cx="861.4" cy="275.8" rx="14.66" ry="25.4" transform="rotate(-30 861.4 275.8)" stroke-width="1.2"/><ellipse cx="861.4" cy="275.8" rx="13.63" ry="23.6" transform="rotate(-30 861.4 275.8)"/></g>
<g id="72_piston"><path d="M811.3 334.7 L809.5 335.5 L807.5 335.9 L805.3 335.9 L803.1 335.4 L800.7 334.6 L798.3 333.4 L795.9 331.8 L793.5 329.9 L791.2 327.7 L789 325.2 L787 322.5 L785.2 319.6 L783.6 316.6 L782.3 313.5 L781.2 310.4 L780.4 307.3 L780 304.3 L779.8 301.4 L780 298.8 L780.4 296.3 L781.2 294.1 L782.3 292.2 L783.6 290.7 L785.2 289.5 L795.2 283.7 L797 283 L799 282.6 L801.2 282.6 L803.5 283 L805.8 283.8 L808.2 285 L810.6 286.6 L813 288.5 L815.3 290.7 L817.5 293.2 L819.5 295.9 L821.3 298.8 L822.9 301.8 L824.2 304.9 L825.3 308 L826.1 311.1 L826.5 314.1 L826.7 317 L826.5 319.7 L826.1 322.2 L825.3 324.3 L824.2 326.2 L822.9 327.8 L821.3 328.9 Z" fill="#fff" stroke-width="1.3"/><path d="M788.9 287.4 L791 286.8 L793.4 286.7 L795.8 287 L798.4 287.9 L801 289.2 L803.7 290.9 L806.2 293 L808.7 295.5 L811 298.3 L813.1 301.4 L815 304.6 L816.6 307.9 L817.8 311.3 L818.8 314.7 L819.3 318 L819.5 321.2 L819.3 324.1 L818.7 326.7 L817.8 329.1 L816.6 331 L815 332.5" stroke-width="3.4"/><path d="M793.5 284.8 L795.6 284.2 L797.9 284 L800.4 284.4 L803 285.2 L805.6 286.5 L808.2 288.3 L810.8 290.4 L813.3 292.9 L815.6 295.7 L817.7 298.7 L819.6 301.9 L821.2 305.3 L822.4 308.7 L823.3 312.1 L823.9 315.4 L824.1 318.5 L823.9 321.4 L823.3 324.1 L822.4 326.4 L821.1 328.3 L819.6 329.9" stroke-width="1.2"/><ellipse cx="798.3" cy="312.1" rx="15.07" ry="26.1" transform="rotate(-30 798.3 312.1)" fill="#fff" stroke-width="2.3"/><ellipse cx="799.1" cy="311.8" rx="13.11" ry="22.7" transform="rotate(-30 799.1 311.8)" stroke-width="2.0"/><path d="M788.7 293.4 L787.9 295.4 L787.4 297.7 L787.2 300.2 L787.4 303 L787.9 305.9 L788.7 308.8 L789.8 311.8 L791.1 314.7 L792.8 317.5 L794.6 320.2 L796.6 322.6 L798.8 324.8 L801.1 326.7 L803.4 328.2 L805.7 329.3 L807.9 330 L810.1 330.3"/><ellipse cx="799.1" cy="312.9" rx="2.72" ry="3.4" transform="rotate(-30 799.1 312.9)"/><path d="M789.3 296.9 L794.8 307.8 L796.7 308.6 L792.2 296.9" stroke-width="1.3"/><path d="M797.1 306.6 L802 302.7 L805.3 301.2" stroke-width="1.3"/><path d="M800 309.6 L805.9 305.7" stroke-width="1.3"/><path d="M795.1 316.4 L793.2 326.2 L802 330.1 L802 317.4" stroke-width="1.3"/><path d="M796.7 317.4 L796.3 327.1" stroke-width="1.3"/><path d="M812.7 302.7 L815.7 299.8 L817.6 301.2 L815.7 306.6" stroke-width="1.3"/></g>
<g id="73_lever"><path d="M959.6 295.9 L959.6 308"/><path d="M959.6 311.1 L959.6 346.6"/><circle cx="959.6" cy="309.5" r="1.4" fill="#fff"/><path d="M959.6 324.8 L959.6 334.9" stroke-width="3" stroke="#111"/><path d="M946.9 348.6 L952.7 346.2 L964.4 352.1 L972.6 360.3 L973.2 381.8 L968.3 383.7 L966.4 386.1 L966.4 407.2 L964.4 410.1 L958.6 416.9 L951.2 422.8 L947.8 421.2 L947.8 411.1 L951.2 405.2 L953.1 400.3 L952.3 381.8 L946.9 372 L946.5 350.5 Z" fill="#fff" stroke-width="1.4"/><path d="M948.8 348.6 L951.2 347.8 L962.1 353.7 L969.3 360.7 L969.7 381.8 L964.4 384.1 L962.9 386.7 L962.9 406.8 L960.9 409.5 L955.7 415 L949.8 419.9" stroke-width="1.1"/><path d="M969.3 360.7 L972.6 360.3"/><path d="M951.2 358.3 L962.5 363.8 L962.5 375.9 L951.2 370.1 Z" stroke-width="1.3"/><path d="M956.6 361.1 L956.6 372.8" stroke-width="1.1"/><path d="M956.6 367.1 L962.5 370.1" stroke-width="1.1"/><path d="M951.2 405.2 L955.7 407.2 L958.6 403.3" stroke-width="1.2"/><path d="M955.7 401.3 L956.6 409.1 L948.8 416.9" stroke-width="1.4"/></g>
<g id="75_mainhousing"><path d="M176.6 550.1 L177.8 574 L190.4 586.5 L200.4 646.7 L200.4 656.8 L209.2 665.5 L223 668.1 L234.3 663 L253.1 648 L257.6 637.9 L256.9 627.9 L254.4 620.4 L245.6 582.7 L240.6 552.6 L215.5 545.1 Z" fill="#fff" stroke="none"/><path d="M190.4 586.5 L200.4 646.7"/><path d="M199.2 646.7 C199.3 648.4 198.2 653.6 199.9 656.8 C201.6 659.9 205.3 663.7 209.2 665.5 C213 667.4 218.8 668.5 223 668.1 C227.2 667.6 229.3 666.4 234.3 663 C239.3 659.7 249.2 652.2 253.1 648 C257 643.8 257 641.3 257.6 637.9 C258.3 634.6 257.4 630.8 256.9 627.9 C256.3 625 254.8 621.6 254.4 620.4" stroke-width="1.2"/><path d="M254.4 620.4 C253.7 617.4 252.1 609.1 250.6 602.8 C249.1 596.5 247.2 590.3 245.6 582.7 C244 575.2 242 563.1 241.1 557.6 C240.1 552.2 240.2 551.4 240.1 550.1"/><path d="M199.2 646.7 C200.6 648.2 204 653.8 207.9 655.5 C211.9 657.2 217.6 658.4 223 656.8 C228.4 655.1 235.3 650.5 240.6 645.5 C245.8 640.5 252.1 630.8 254.4 626.6 C256.7 622.5 254.4 621.4 254.4 620.4"/><path d="M200.4 652.2 C201.9 653.7 205.2 659.4 209.2 661 C213.2 662.7 218.6 664 224.3 662 C229.9 660.1 237.6 654.3 243.1 649.2 C248.6 644.2 254.8 634.6 257.1 631.7"/><path d="M215 587.3 L228.8 660.5"/><path d="M194.1 588.3 L204.2 648.5"/><path d="M197.4 585.7 L207.9 652.5"/><path d="M226.8 579.2 L229.5 580.2 L241.8 634.9 L239.6 637.9 L226.8 581.7 Z" stroke-width="0.9"/><path d="M228.8 581.2 L240.8 635.4" stroke-width="0.7" stroke="#555"/><path d="M236 557.6 L250.6 625.4"/><path d="M172.8 547.6 C173.4 548 175.7 545.7 176.6 550.1 C177.4 554.5 177 569 177.8 574 C178.7 578.9 178.7 577.6 181.6 579.7 C184.5 581.8 191.4 585.2 195.4 586.5 C199.4 587.8 202.8 588 205.4 587.8 C208 587.5 209.3 586.4 211 585.2 C212.6 584.1 213.9 583.2 215.5 580.7 C217.1 578.2 218.6 573.5 220.5 570.2 C222.4 566.8 223.4 563.6 226.8 560.7 C230.1 557.7 238.3 554 240.6 552.6" stroke-width="1.2"/><path d="M180.3 574 C181.2 574.9 182.8 578.3 185.4 579.7 C187.9 581.2 192.3 582.1 195.4 582.7 C198.5 583.3 202.1 583.5 204.2 583.2 C206.3 583 207.3 581.6 207.9 581.2"/><path d="M189.1 552.6 L190.4 562.7 L180.3 568.9"/><path d="M192.9 563.9 L198.4 565.7 L200.4 581.5"/><path d="M195.4 565.2 L197.4 581.5"/><path d="M195.4 584 C196.6 583.4 200.6 580.5 202.9 580.2 C205.2 579.9 208.4 581.3 209.2 582.2 C210 583.2 208.2 585.2 207.9 585.7"/><path d="M151.3 444 L219.1 405 L221.2 404.1 L235.7 409 L255.8 422.4 L273.6 436.9 L281.5 449.2 L285.9 469.3 L285.9 496 L282.6 513.9 L275.9 527.3 L240.6 552.6 L226.8 560.7 L210.5 566.4 L211.6 562 L200.3 563.2 L190.3 556.9 L173.9 545.6 L157.6 530.6 L146.3 505.5 L142.1 477.9 L143.8 457.8 L147.6 446.5 Z" fill="#fff" stroke="none"/><path d="M151.3 444 L219.1 405"/><path d="M221.2 404.1 C223.6 404.9 229.9 406 235.7 409 C241.5 412.1 249.5 417.8 255.8 422.4 C262.1 427.1 269.4 432.4 273.6 436.9 C277.9 441.4 279.4 443.8 281.5 449.2 C283.5 454.6 285.2 461.5 285.9 469.3 C286.7 477.1 286.5 488.6 285.9 496 C285.4 503.5 284.2 508.7 282.6 513.9 C280.9 519.1 278.5 523.6 275.9 527.3 C273.3 531 268.4 534.7 266.9 536.2"/><path d="M219.1 405 L221.2 404.1"/><path d="M211.6 475.8 L274.8 435.3"/><path d="M229 512.1 L277 482.7 L279.2 486 L278.1 505 L231.2 531.8 L229 528.4 Z"/><path d="M230.8 513.5 L277 485.3"/><path d="M230.8 513.5 L230.8 530" stroke-width="1.4"/><path d="M231.2 531.8 L278.1 505" stroke-width="1.4"/><path d="M207.9 566.4 C210 565.4 215.1 563 220.5 560.2 C225.9 557.3 232.2 554 240.6 549.6 C248.9 545.2 265.7 536.4 270.7 533.8"/><path d="M151.3 444 C154.7 444 160.8 443.3 167.7 446.5 C174.6 449.6 185.7 457.8 192.8 462.8 C199.9 467.8 206.4 472 210.3 476.6 C214.3 481.2 214.9 485.2 216.6 490.4 C218.3 495.6 219.5 501.3 220.4 508 C221.2 514.7 222.1 523.5 221.6 530.6 C221.2 537.7 219.5 545.4 217.9 550.7 C216.2 555.9 214.5 559.9 211.6 562 C208.7 564.1 203.9 564.1 200.3 563.2 C196.7 562.4 194.6 559.9 190.3 556.9 C185.9 554 179.4 550 173.9 545.6 C168.5 541.2 162.2 537.3 157.6 530.6 C153 523.9 148.9 514.3 146.3 505.5 C143.7 496.7 142.5 485.8 142.1 477.9 C141.6 469.9 142.9 463 143.8 457.8 C144.7 452.5 146.3 448.8 147.6 446.5 C148.8 444.2 148 444 151.3 444 Z" fill="#fff" stroke-width="1.2"/><ellipse cx="181.5" cy="502.7" rx="28.12" ry="48.7" transform="rotate(-30 181.5 502.7)" stroke-width="1.1"/><path d="M203.8 485.8 L200 480.4 L195.8 475.4 L191.4 471 L186.7 467.2 L182 464.2 L177.3 461.9 L172.7 460.4 L168.3 459.8 L164.1 460.1 L160.4 461.2 L157 463.2 L154.2 466 L152 469.5 L150.3 473.6 L149.3 478.4 L149 483.6 L149.3 489.3 L150.3 495.2 L152 501.3 L154.2 507.4 L157 513.4 L160.4 519.2 L164.1 524.7 L168.3 529.7"/><path d="M172.6 461.4 C170.9 461.7 165.2 461.4 162.6 463.4 C160 465.4 158.2 469 157.1 473.4 C155.9 477.9 154.5 483.8 155.9 490.2 C157.2 496.6 160.5 504.7 165.1 511.9 C169.7 519.2 176.5 528.6 183.5 533.6 C190.4 538.7 201.5 541.4 206.9 542.3 C212.2 543.2 214.1 539.6 215.6 539"/><path d="M172.6 461.7 C172.4 464.5 170.6 472.3 171.4 478.5 C172.3 484.6 174.5 492.4 177.6 498.5 C180.7 504.7 185.8 510.8 190.2 515.3 C194.5 519.7 199.6 523.3 203.5 525.3 C207.5 527.3 212.2 527 213.9 527.3" stroke-width="1.6"/><path d="M213.9 527.3 C214.2 528.4 215.3 531.7 215.6 533.6 C215.9 535.6 215.6 538.1 215.6 539"/><ellipse cx="155.1" cy="450.2" rx="3.04" ry="4.6" transform="rotate(-30 155.1 450.2)"/><ellipse cx="207.8" cy="481.6" rx="3.04" ry="4.6" transform="rotate(-30 207.8 481.6)"/><ellipse cx="156.4" cy="528.1" rx="3.04" ry="4.6" transform="rotate(-30 156.4 528.1)"/><ellipse cx="206.6" cy="556.9" rx="3.04" ry="4.6" transform="rotate(-30 206.6 556.9)"/><path d="M180.1 497.4 L200.2 488.5" stroke-width="0.8"/><path d="M180.1 499.4 L200.2 490.5" stroke-width="0.8"/><path d="M180.1 501.4 L200.2 492.5" stroke-width="0.8"/><path d="M200.2 488.8 L206.6 485.5"/><path d="M200.2 492.8 L206.9 489.5"/><path d="M213.6 497.7 L190.2 508.6 L197.7 518.6 L214.4 510.9"/><path d="M199.4 517.3 L206.9 523.6 L214.9 519.9"/><path d="M197.7 518.6 L199.4 517.3"/><path d="M206.9 523.6 L213.6 526.1"/><path d="M172.1 468.8 L183.8 462.7"/><path d="M172.4 475.5 L184.3 470.1"/></g>
<g id="76_bearing2"><path d="M332.1 447.8 L330.2 448.6 L328 449 L325.7 449 L323.3 448.6 L320.8 447.7 L318.2 446.4 L315.6 444.7 L313.1 442.7 L310.7 440.3 L308.4 437.7 L306.2 434.8 L304.3 431.7 L302.6 428.5 L301.2 425.2 L300 421.9 L299.2 418.6 L298.7 415.4 L298.5 412.4 L298.7 409.5 L299.2 406.9 L300 404.5 L301.2 402.5 L302.6 400.9 L304.3 399.6 L312.5 394.9 L314.5 394 L316.6 393.6 L318.9 393.6 L321.3 394.1 L323.9 395 L326.4 396.3 L329 397.9 L331.5 400 L333.9 402.3 L336.3 405 L338.4 407.9 L340.3 410.9 L342 414.1 L343.5 417.4 L344.6 420.7 L345.4 424 L345.9 427.2 L346.1 430.3 L345.9 433.2 L345.4 435.8 L344.6 438.1 L343.5 440.1 L342 441.8 L340.3 443 Z" fill="#fff" stroke-width="1.4"/><ellipse cx="318.2" cy="423.7" rx="16.05" ry="27.8" transform="rotate(-30 318.2 423.7)" fill="#fff" stroke-width="1.5"/><ellipse cx="318.2" cy="423.7" rx="15.33" ry="26.5" transform="rotate(-30 318.2 423.7)" stroke-width="0.9"/><ellipse cx="318.2" cy="423.7" rx="14.20" ry="24.6" transform="rotate(-30 318.2 423.7)" stroke-width="1.8"/><ellipse cx="318.2" cy="423.7" rx="9.63" ry="16.7" transform="rotate(-30 318.2 423.7)" stroke-width="1.7"/><ellipse cx="318.2" cy="423.7" rx="8.67" ry="15" transform="rotate(-30 318.2 423.7)" stroke-width="0.9"/><ellipse cx="318.8" cy="423.5" rx="7.38" ry="12.8" transform="rotate(-30 318.8 423.5)" stroke-width="1.2"/><ellipse cx="330.2" cy="440.3" rx="2.19" ry="2.9" transform="rotate(-30 330.2 440.3)" stroke-width="0.9"/><ellipse cx="332.8" cy="432.8" rx="2.19" ry="2.9" transform="rotate(-30 332.8 432.8)" stroke-width="0.9"/><ellipse cx="330.8" cy="422.4" rx="2.19" ry="2.9" transform="rotate(-30 330.8 422.4)" stroke-width="0.9"/><ellipse cx="324.8" cy="412.4" rx="2.19" ry="2.9" transform="rotate(-30 324.8 412.4)" stroke-width="0.9"/><ellipse cx="316.7" cy="406" rx="2.19" ry="2.9" transform="rotate(-30 316.7 406)" stroke-width="0.9"/><ellipse cx="309.1" cy="405.2" rx="2.19" ry="2.9" transform="rotate(-30 309.1 405.2)" stroke-width="0.9"/><ellipse cx="304.3" cy="410.3" rx="2.19" ry="2.9" transform="rotate(-30 304.3 410.3)" stroke-width="0.9"/><ellipse cx="304" cy="419.6" rx="2.19" ry="2.9" transform="rotate(-30 304 419.6)" stroke-width="0.9"/><ellipse cx="308.2" cy="430.2" rx="2.19" ry="2.9" transform="rotate(-30 308.2 430.2)" stroke-width="0.9"/><ellipse cx="315.5" cy="438.8" rx="2.19" ry="2.9" transform="rotate(-30 315.5 438.8)" stroke-width="0.9"/><ellipse cx="323.8" cy="442.6" rx="2.19" ry="2.9" transform="rotate(-30 323.8 442.6)" stroke-width="0.9"/><path d="M319.3 411.4 L318.1 411.2 L317 411.2 L316 411.4 L315.1 411.9 L314.3 412.6 L313.7 413.6 L313.3 414.7 L313 415.9 L312.9 417.3 L313 418.8 L313.3 420.4 L313.7 422 L314.3 423.6 L315.1 425.2 L316 426.8 L317 428.2 L318.1 429.5 L319.3 430.7"/></g>
<g id="77_trigger"><path d="M150.2 587.3 L179.1 571.4"/><path d="M126.1 596.3 L148.6 585.9 L151.2 586.2 L152.6 588.6 L151.8 591 L129 602.9 Z" fill="#fff"/><path d="M102 595.3 C103 592.3 106.5 588.7 108.1 587.3 C109.6 585.8 108.7 585.5 111.3 586.5 C114 587.5 121.5 591.3 123.9 593.3 C126.3 595.2 125 594.6 125.6 598.3 C126.3 602 128.4 611.7 127.6 615.4 C126.9 619 124.1 619.3 121.4 620.4 C118.6 621.4 114 622 111.3 621.6 C108.7 621.3 107 621.1 105.6 618.4 C104.1 615.7 103.1 609.2 102.5 605.3 C102 601.5 101.1 598.3 102 595.3 Z" fill="#fff" stroke-width="1.4"/><path d="M102.5 596.5 C103.6 596.3 106.3 594.9 108.8 595.3 C111.3 595.7 114.9 598.5 117.6 599 C120.3 599.5 123.9 598.4 125.1 598.3" stroke-width="1.3"/><path d="M108.1 587.3 L109.6 590.8 L122.1 597.3 L123.9 593.3" stroke-width="1.2"/><path d="M109.6 590.8 L107.6 595.3"/><path d="M108.8 596.5 C108.7 598.4 107.8 603.9 108.1 607.8 C108.4 611.8 110.2 618.3 110.6 620.4" stroke-width="1.2"/><path d="M105.6 597.8 C105.5 599.5 104.7 604.3 105.1 607.8 C105.4 611.4 107.1 617.2 107.6 619.1"/><path d="M121.4 599.8 C121.5 601.6 122.1 607 122.1 610.3 C122.1 613.7 121.5 618.3 121.4 619.9" stroke-width="1.2"/><path d="M105.6 617.9 C106.5 618.1 108.7 619.1 111.3 619.1 C114 619.1 118.7 618.8 121.4 617.9 C124 616.9 126.2 614.1 127.1 613.4"/><path d="M148.7 636.7 C149.2 635.1 149.9 633.5 152.4 631.2 C155 628.9 161.7 623.9 164 622.7 C166.4 621.4 165.4 622.7 166.7 623.5 C167.9 624.3 169.5 626.4 171.5 627.5 C173.5 628.6 177.5 629.1 178.7 630.1 C180 631.1 179.7 632 178.9 633.4 C178.2 634.8 176.6 636.6 174.3 638.4 C172.1 640.2 168 643.1 165.6 644.3 C163.1 645.6 161.5 645.8 159.7 645.9 C157.8 646 156.3 645.9 154.6 645 C152.9 644.1 150.6 642 149.6 640.6 C148.6 639.2 148.2 638.2 148.7 636.7 Z" fill="#fff" stroke-width="1.3"/></g>
<g id="78_smallparts"><ellipse cx="352.4" cy="514.7" rx="12.4" ry="7.6" transform="rotate(-8 352.4 514.7)" fill="#fff" stroke-width="1.8"/><ellipse cx="352.4" cy="513.1" rx="12.4" ry="7.6" transform="rotate(-8 352.4 513.1)" fill="#fff" stroke-width="1.4"/><ellipse cx="352.4" cy="510.3" rx="12.2" ry="7.4" transform="rotate(-8 352.4 510.3)" fill="#fff" stroke-width="1.3"/><ellipse cx="352.4" cy="510.5" rx="9.4" ry="5.4" transform="rotate(-8 352.4 510.5)"/><ellipse cx="352.7" cy="512.1" rx="7" ry="3.6" transform="rotate(-8 352.7 512.1)"/><ellipse cx="357.4" cy="538.4" rx="12.4" ry="9" transform="rotate(-8 357.4 538.4)" fill="#fff" stroke-width="1.0"/><ellipse cx="357.4" cy="538.4" rx="10.6" ry="7.4" transform="rotate(-8 357.4 538.4)" stroke-width="0.9"/><ellipse cx="362.2" cy="565.4" rx="11.8" ry="8.6" transform="rotate(-8 362.2 565.4)" fill="#fff"/><ellipse cx="362.2" cy="564.2" rx="11.8" ry="8.6" transform="rotate(-8 362.2 564.2)" fill="#fff" stroke-width="1.2"/><ellipse cx="362.5" cy="563.9" rx="6.6" ry="4.2" transform="rotate(-8 362.5 563.9)"/><ellipse cx="362.8" cy="564.8" rx="5" ry="2.8" transform="rotate(-8 362.8 564.8)"/><path d="M348.4 492.7 L368 586.8" stroke-width="0.9"/><path d="M429.9 450.3 L432.9 463.3" stroke-width="1.1"/><path d="M433.2 449.3 L436.2 462.3" stroke-width="1.1"/><ellipse cx="431.6" cy="449.5" rx="1.9" ry="1.1" transform="rotate(-10 431.6 449.5)" fill="#fff"/><path d="M429.7 437.7 L430.9 448.2"/><path d="M445.6 463.8 L443.7 465.6 L444.6 467.2 L441.6 468.4 L440.9 470.3 L437.6 470.5 L435.3 472.1 L432.6 471.4 L429.4 472.3 L428.1 470.8 L424.9 470.7 L425.2 468.8 L422.8 467.8 L424.7 466.1 L423.7 464.4 L426.7 463.3 L427.5 461.4 L430.8 461.1 L433.1 459.5 L435.8 460.3 L438.9 459.4 L440.3 460.9 L443.5 460.9 L443.2 462.8 Z" fill="#fff" stroke-width="1.8"/><ellipse cx="434.2" cy="464.6" rx="8.4" ry="4.2" transform="rotate(-10 434.2 464.6)" stroke-width="1.5"/><ellipse cx="434.2" cy="467.3" rx="10.2" ry="5.2" transform="rotate(-10 434.2 467.3)" stroke-width="1.3"/><ellipse cx="437.7" cy="486.7" rx="8.3" ry="5" transform="rotate(-18 437.7 486.7)" stroke-width="2.7" stroke="#222"/><ellipse cx="437.7" cy="486.7" rx="8.3" ry="5" transform="rotate(-18 437.7 486.7)" stroke-width="0.9" stroke="#fff"/><ellipse cx="439.5" cy="495" rx="8.8" ry="5.3" transform="rotate(-18 439.5 495)" stroke-width="2.7" stroke="#222"/><ellipse cx="439.5" cy="495" rx="8.8" ry="5.3" transform="rotate(-18 439.5 495)" stroke-width="0.9" stroke="#fff"/><ellipse cx="441.3" cy="503.4" rx="9.3" ry="5.6" transform="rotate(-18 441.3 503.4)" stroke-width="2.7" stroke="#222"/><ellipse cx="441.3" cy="503.4" rx="9.3" ry="5.6" transform="rotate(-18 441.3 503.4)" stroke-width="0.9" stroke="#fff"/><ellipse cx="443.1" cy="511.7" rx="9.8" ry="5.9" transform="rotate(-18 443.1 511.7)" stroke-width="2.7" stroke="#222"/><ellipse cx="443.1" cy="511.7" rx="9.8" ry="5.9" transform="rotate(-18 443.1 511.7)" stroke-width="0.9" stroke="#fff"/><ellipse cx="444.9" cy="520.1" rx="10.4" ry="6.2" transform="rotate(-18 444.9 520.1)" stroke-width="2.7" stroke="#222"/><ellipse cx="444.9" cy="520.1" rx="10.4" ry="6.2" transform="rotate(-18 444.9 520.1)" stroke-width="0.9" stroke="#fff"/><ellipse cx="446.7" cy="528.4" rx="10.9" ry="6.5" transform="rotate(-18 446.7 528.4)" stroke-width="2.7" stroke="#222"/><ellipse cx="446.7" cy="528.4" rx="10.9" ry="6.5" transform="rotate(-18 446.7 528.4)" stroke-width="0.9" stroke="#fff"/><ellipse cx="448.5" cy="536.8" rx="11.4" ry="6.8" transform="rotate(-18 448.5 536.8)" stroke-width="2.7" stroke="#222"/><ellipse cx="448.5" cy="536.8" rx="11.4" ry="6.8" transform="rotate(-18 448.5 536.8)" stroke-width="0.9" stroke="#fff"/><ellipse cx="450.3" cy="545.2" rx="11.9" ry="7.1" transform="rotate(-18 450.3 545.2)" stroke-width="2.7" stroke="#222"/><ellipse cx="450.3" cy="545.2" rx="11.9" ry="7.1" transform="rotate(-18 450.3 545.2)" stroke-width="0.9" stroke="#fff"/><ellipse cx="436.7" cy="480.9" rx="6" ry="3.2" transform="rotate(-14 436.7 480.9)" stroke-width="1.4"/><ellipse cx="436.7" cy="482.4" rx="7.4" ry="4" transform="rotate(-14 436.7 482.4)" stroke-width="1.2"/><ellipse cx="451" cy="549.2" rx="11.8" ry="6.4" transform="rotate(-14 451 549.2)" stroke-width="1.6"/><path d="M435.7 472.9 L452.8 557.7" stroke-width="0.9"/><path d="M464.1 436.4 C465.7 433.4 471 428.2 475.4 423.9 C479.8 419.6 485.6 413.8 490.4 410.6 C495.2 407.4 500.1 405 504.2 404.6 C508.3 404.1 512.9 406 515 408.1 C517.2 410.2 518.4 413.9 517.3 417.1 C516.2 420.4 511.9 424.3 508.5 427.7 C505.1 431 500.6 434.5 496.7 437.2 C492.9 439.9 489.4 442.5 485.4 444 C481.4 445.4 476.2 446.3 472.9 446 C469.5 445.7 466.8 443.6 465.3 442 C463.9 440.4 462.4 439.5 464.1 436.4 Z" fill="#fff" stroke-width="1.5"/><ellipse cx="501.5" cy="417.6" rx="12.6" ry="8.6" transform="rotate(-24 501.5 417.6)" stroke-width="1.2"/><ellipse cx="469.8" cy="434.7" rx="2.1" ry="1.6" transform="rotate(-20 469.8 434.7)"/><ellipse cx="475" cy="431" rx="2.1" ry="1.6" transform="rotate(-20 475 431)"/><ellipse cx="480.1" cy="427.4" rx="2.1" ry="1.6" transform="rotate(-20 480.1 427.4)"/><ellipse cx="485.3" cy="423.8" rx="2.1" ry="1.6" transform="rotate(-20 485.3 423.8)"/><ellipse cx="475.4" cy="438.1" rx="2.1" ry="1.6" transform="rotate(-20 475.4 438.1)"/><ellipse cx="480.5" cy="434.4" rx="2.1" ry="1.6" transform="rotate(-20 480.5 434.4)"/><ellipse cx="485.7" cy="430.8" rx="2.1" ry="1.6" transform="rotate(-20 485.7 430.8)"/><ellipse cx="490.8" cy="427.2" rx="2.1" ry="1.6" transform="rotate(-20 490.8 427.2)"/><ellipse cx="480.9" cy="441.5" rx="2.1" ry="1.6" transform="rotate(-20 480.9 441.5)"/><ellipse cx="486" cy="437.8" rx="2.1" ry="1.6" transform="rotate(-20 486 437.8)"/><ellipse cx="491.2" cy="434.2" rx="2.1" ry="1.6" transform="rotate(-20 491.2 434.2)"/><ellipse cx="496.3" cy="430.5" rx="2.1" ry="1.6" transform="rotate(-20 496.3 430.5)"/><path d="M498.5 409.6 L507.5 448.2"/><path d="M494.9 466.6 L497.5 478.4 L508 485.4 L523.6 481.6 L529.6 471.6 L527.1 463.3 L520.6 459 L498 461.6 Z" fill="#fff" stroke-width="1.2"/><path d="M494.9 466.6 L498.5 470.8 L508 476.6 L523.1 473.4 L529.6 471.6"/><path d="M498.5 470.8 L500.5 480.4"/><path d="M508 476.6 L508 485.4"/><path d="M523.1 473.4 L523.6 481.6"/><path d="M515 474.9 L515.5 483.9"/><path d="M496.5 454.8 L497.5 466.6 L508 470.8 L520.6 467.3 L521.1 455.8 Z" fill="#fff" stroke="none"/><path d="M496 454.8 L497.2 465.3"/><path d="M521.3 454.8 L521.6 465.3"/><ellipse cx="508.5" cy="464.3" rx="12.6" ry="6.6" transform="rotate(-8 508.5 464.3)" stroke-width="1.1"/><ellipse cx="508.5" cy="458.3" rx="12.6" ry="6.6" transform="rotate(-8 508.5 458.3)" fill="#fff" stroke-width="1.1"/><ellipse cx="508.5" cy="453.3" rx="12.6" ry="6.6" transform="rotate(-8 508.5 453.3)" fill="#fff" stroke-width="1.3"/><ellipse cx="508.5" cy="453.3" rx="9.2" ry="4.6" transform="rotate(-8 508.5 453.3)" stroke-width="1.2"/><ellipse cx="508.9" cy="453.9" rx="7" ry="3.2" transform="rotate(-8 508.9 453.9)"/></g>
<g id="80_gripbox"><rect x="777.5" y="369.5" width="134" height="180" fill="#fff" stroke-width="1.1"/></g>
<g id="81_grip"><path d="M812.4 441.8 C811.3 446.5 813 451.3 814 456.4 C815 461.5 816.7 466.8 818.2 472.3 C819.7 477.8 821.8 483.6 823 489.5 C824.2 495.5 825.4 503.3 825.6 508.1 C825.9 512.9 824.1 515.2 824.3 518.2 C824.5 521.2 824.7 524 826.7 526.1 C828.7 528.2 832 530.3 836.2 530.9 C840.5 531.4 846 531.2 852.1 529.3 C858.3 527.3 867.7 523.4 873.3 519.2 C879 515 883.6 508.2 886.1 504.1 C888.5 500 888.3 498.6 887.9 494.8 C887.6 491.1 885.8 487.8 883.9 481.6 C882 475.4 879.1 465.9 876.5 457.7 C874 449.6 870.8 439.5 868.6 432.6 C866.4 425.6 862.9 420.5 863.3 415.9 C863.6 411.2 867.9 407.9 870.7 404.7 C873.5 401.6 877.3 398.8 880 396.8 C882.6 394.8 885.8 394 886.6 392.8 C887.3 391.7 886.1 389.8 884.5 389.9 C882.8 390 879 393.6 876.5 393.6 C874 393.7 871.6 392.4 869.4 390.2 C867.2 388 865 382.8 863.3 380.4 C861.5 377.9 860.6 376 858.8 375.6 C856.9 375.2 855 375.6 852.1 378.2 C849.3 380.9 845.1 386.2 841.5 391.5 C838 396.8 834.5 403.9 830.9 410 C827.4 416.2 823.4 423.3 820.3 428.6 C817.3 433.9 813.5 437.2 812.4 441.8 Z" fill="#fff" stroke-width="1.3"/><path d="M858.8 375.6 C859.2 376 860.2 376.5 861.4 378.2 C862.6 380 864.2 383.6 865.9 386.2 C867.7 388.8 870.1 391.9 872 393.6 C873.9 395.3 875.3 396.6 877.3 396.3 C879.3 395.9 882.8 392.3 883.9 391.5" stroke-width="1.2"/><path d="M852.1 378.2 C852.7 378.6 854.2 380.3 855.3 380.4 C856.4 380.5 857.4 378.8 858.8 378.8 C860.1 378.8 862.5 380.1 863.3 380.4"/><path d="M812.4 441.8 C813.5 443 815.9 447 819 448.7 C822.1 450.5 827 452.9 830.9 452.4 C834.9 452 839.6 449.8 842.9 445.8 C846.2 441.8 848 434.5 850.8 428.6 C853.6 422.7 855.9 415.8 859.6 410.6 C863.2 405.4 868.7 400.6 872.8 397.3 C877 394 882.5 391.8 884.5 390.7" stroke-width="1.4"/><path d="M814.5 439.7 C815.6 440.7 818 444.2 820.9 445.8 C823.7 447.4 828.1 449.7 831.5 449.3 C834.8 448.9 838.1 447.2 841 443.4 C843.9 439.6 846.2 432.3 849 426.5 C851.7 420.7 853.8 413.9 857.4 408.7 C861.1 403.6 866.7 398.7 870.7 395.5 C874.7 392.2 879.5 390.4 881.3 389.4"/><path d="M841.5 391.5 C842.1 393.7 843.8 400.1 844.7 404.7 C845.7 409.4 846.5 414.4 847.4 419.3 C848.3 424.3 849.6 431.9 850 434.4"/><path d="M849.5 384.9 C850 387.3 851.9 394.4 852.7 399.4 C853.5 404.5 853.9 410.8 854.3 415.3 C854.6 419.8 854.7 424.6 854.8 426.5"/><path d="M841 416.7 C842.4 416.2 846.8 413.8 849.5 414 C852.2 414.2 856.1 417.3 857.4 418"/><path d="M855.3 426.5 C855 429.5 853.1 438.8 853.5 444.5 C853.8 450.2 855.1 456.5 857.4 460.9 C859.8 465.3 864.6 469.5 867.5 471 C870.4 472.4 873.7 469.9 874.9 469.7" stroke-width="1.3"/><path d="M861.4 418 C861 421.1 858.5 430.1 858.8 436.5 C859.1 442.9 860.8 451.2 863.3 456.4 C865.7 461.6 871.7 465.9 873.3 467.8"/><path d="M832.5 434.4 C832.7 433.9 833 431.7 833.6 431.2 C834.2 430.8 835.6 431 836.2 431.8 C836.9 432.6 837.3 435.3 837.6 436"/><path d="M832.5 434.4 C833.7 440.5 836.7 456.1 839.4 471 C842.2 485.9 847.4 515.2 849 524" stroke-width="1.2"/><path d="M837.6 436 C838.7 441.8 841.5 455.8 844.2 471 C846.8 486.2 851.9 517.8 853.5 527.2" stroke-width="2.2"/><path d="M841 444.5 C842.2 450.2 845.6 465.5 848.2 478.9 C850.7 492.4 854.8 517.6 856.1 525.3" stroke-width="1.6"/><path d="M850 434.4 C851.3 441.4 855.2 462.7 857.4 476.3 C859.6 489.9 862.3 509.4 863.3 516" stroke-width="1.2"/><path d="M857.4 423.8 C859 431.7 863.6 455.8 866.7 471 C869.8 486.1 874.4 507.4 876 514.7" stroke-width="1.2"/><path d="M863.3 415.9 C865.2 423.3 871.4 445.9 874.7 460.4 C877.9 474.9 881.3 495.7 882.6 502.8" stroke-width="1.8"/><path d="M865.4 418 C867.4 425.5 874.1 449.8 877.3 463 C880.5 476.3 883.3 491.7 884.5 497.5" stroke-width="1.2"/><path d="M815.6 452.4 C816.6 456.9 819.8 469.7 821.7 478.9 C823.6 488.2 825.8 500.6 827 508.1 C828.2 515.6 828.5 521.3 828.8 524" stroke-width="1.8"/><path d="M818.2 452.4 C819.4 457.3 823.1 472.1 825.1 481.6 C827.1 491.1 829.2 501.7 830.4 509.4 C831.6 517.1 832 524.9 832.3 528" stroke-width="1.2"/><path d="M827 456.4 C827.9 461.9 830.7 477.4 832.3 489.5 C833.8 501.7 835.6 522.7 836.2 529.3" stroke-width="1.2"/><path d="M825.1 512.1 C827 513.4 831.6 518.8 836.2 520 C840.8 521.2 846.7 521 852.7 519.2 C858.6 517.4 866.4 513.8 872 509.4 C877.7 505 884.2 495.5 886.6 492.7" stroke-width="1.3"/><path d="M824.6 517.4 C826.5 518.6 831.6 523.7 836.2 524.8 C840.9 525.9 846.6 525.8 852.7 524 C858.8 522.2 867.2 518.1 872.8 513.9 C878.5 509.7 884.3 501.3 886.6 498.8" stroke-width="1.2"/><path d="M826.2 523.5 C827.9 524.2 831.8 527.4 836.2 528 C840.7 528.5 846.5 528.8 852.7 526.9 C858.9 525 869.9 518.3 873.3 516.6" stroke-width="1.5"/><path d="M823 460.4 C824.8 460 829.6 459.6 833.6 458.3 C837.6 456.9 844.6 453.4 846.8 452.4"/><path d="M862.7 513.4 C863.7 513.9 866.7 516.6 868.6 516.6 C870.4 516.6 873 513.9 873.9 513.4" stroke-width="1.5"/><path d="M816.6 444.5 C817.6 449.8 820.6 465.5 822.5 476.3 C824.3 487.1 826.5 501.1 827.8 509.4 C829 517.7 829.5 523.3 829.9 526.1" stroke-width="1.3"/><path d="M820.3 449.8 C821.4 455.1 824.7 471.5 826.7 481.6 C828.7 491.7 831 502.3 832.3 510.2 C833.5 518.1 834 525.7 834.4 528.8" stroke-width="1.0"/><path d="M835.2 436.5 C836.3 442.3 839.3 456.1 842.1 471 C844.8 485.8 850 516.5 851.6 525.6" stroke-width="1.6"/><path d="M860.1 422 C861.8 429.7 867 453.6 870.2 468.3 C873.3 483 877.7 503.2 879.2 510.2" stroke-width="1.5"/><path d="M867 425.9 C868.9 433 875.5 457.3 878.6 468.3 C881.8 479.4 884.8 488.2 886.1 492.2" stroke-width="1.3"/><path d="M852.1 444.5 C853.4 451.1 857.4 472.1 859.6 484.2 C861.8 496.4 864.4 511.8 865.4 517.4" stroke-width="1.0"/><path d="M825.1 515 C827 516.2 831.6 521.3 836.2 522.4 C840.8 523.5 846.7 523.4 852.7 521.6 C858.7 519.8 866.6 515.8 872.3 511.5 C877.9 507.2 884.2 498.5 886.6 495.9" stroke-width="1.2"/><path d="M857.4 513.4 C858.4 514.7 860.2 520.7 863.3 521.3 C866.4 522 872.5 520 876 517.4 C879.4 514.7 882.6 507.4 883.9 505.4" stroke-width="1.4"/><path d="M854.8 524 C856.6 523.5 861.9 522.3 865.4 520.8 C868.8 519.3 873.8 515.9 875.5 515" stroke-width="1.6"/><path d="M849.5 396.8 C850.3 399 852.7 406.5 854.3 410 C855.8 413.6 858 416.7 858.8 418" stroke-width="1.0"/><path d="M862.7 399.4 C862.5 401 861.3 406 861.4 408.7 C861.5 411.5 863 414.7 863.3 415.9" stroke-width="1.2"/></g>
<g id="90_screw1"><path d="M106.6 300.6 L120.4 292.1"/><path d="M101.5 294.5 L101.5 358"/><path d="M86.5 321.8 L86 322 L85.4 322.1 L84.8 322.1 L84.2 322 L83.5 321.8 L82.8 321.4 L82.1 321 L81.4 320.5 L80.8 319.8 L80.2 319.1 L79.6 318.4 L79.1 317.5 L78.6 316.7 L78.3 315.8 L78 314.9 L77.7 314 L77.6 313.2 L77.6 312.4 L77.6 311.6 L77.7 310.9 L78 310.3 L78.3 309.8 L78.6 309.3 L79.1 309 L88.6 303.5 L89.1 303.3 L89.7 303.2 L90.3 303.2 L91 303.3 L91.6 303.5 L92.3 303.9 L93 304.3 L93.7 304.8 L94.3 305.5 L94.9 306.2 L95.5 306.9 L96 307.8 L96.5 308.6 L96.9 309.5 L97.2 310.4 L97.4 311.3 L97.5 312.1 L97.6 312.9 L97.5 313.7 L97.4 314.4 L97.2 315 L96.9 315.5 L96.5 316 L96 316.3 Z" fill="#fff"/><ellipse cx="82.8" cy="315.4" rx="4.27" ry="7.4" transform="rotate(-30 82.8 315.4)" fill="#fff"/><ellipse cx="82.8" cy="315.4" rx="2.54" ry="4.4" transform="rotate(-30 82.8 315.4)"/><ellipse cx="83.1" cy="315.4" rx="1.62" ry="2.8" transform="rotate(-30 83.1 315.4)"/><path d="M94.5 313.7 L94.2 313.8 L93.9 313.9 L93.5 313.9 L93.1 313.8 L92.7 313.7 L92.3 313.5 L91.9 313.2 L91.5 312.9 L91.1 312.5 L90.8 312.1 L90.4 311.7 L90.1 311.2 L89.9 310.7 L89.6 310.1 L89.5 309.6 L89.3 309.1 L89.2 308.6 L89.2 308.1 L89.2 307.7 L89.3 307.2 L89.5 306.9 L89.6 306.5 L89.9 306.3 L90.1 306.1 L106.6 296.6 L106.9 296.5 L107.2 296.4 L107.6 296.4 L108 296.5 L108.4 296.6 L108.8 296.8 L109.2 297.1 L109.6 297.4 L110 297.8 L110.3 298.2 L110.7 298.6 L111 299.1 L111.2 299.6 L111.5 300.2 L111.7 300.7 L111.8 301.2 L111.9 301.7 L111.9 302.2 L111.9 302.6 L111.8 303.1 L111.7 303.4 L111.5 303.8 L111.2 304 L111 304.2 Z" fill="#fff"/></g>
<g id="91_setscrew"><rect x="98.7" y="359.2" width="5.6" height="6.6" rx="1.2" fill="#fff" stroke-width="1.3"/><path d="M98.9 361.2 L104.1 361.2" stroke-width="1"/><path d="M98.9 363.4 L104.1 363.4" stroke-width="1"/><ellipse cx="101.5" cy="359.4" rx="2.8" ry="1.2" fill="#fff" stroke-width="1.1"/></g>
<g id="95_labels"><path d="M260.41,212.66 L263.76,207.80 L263.76,224.00" class="t"/><path d="M265.9 226 L265.9 272.8" stroke-width="0.9" stroke="#6a6a6a"/><path d="M400.61,130.96 C401.02,128.32 403.06,126.83 405.30,127.00 C408.36,127.17 410.20,129.31 409.99,132.28 C409.89,134.43 408.87,135.58 407.34,136.90 L400.61,143.50 L410.20,143.50" class="t"/><path d="M405.5 147.5 L405.5 180.7" stroke-width="0.9" stroke="#6a6a6a"/><path d="M422.22,264.90 C422.63,262.17 424.71,260.63 427.00,260.80 C430.12,260.97 431.99,263.19 431.78,266.27 C431.68,268.50 430.64,269.69 429.08,271.06 L422.22,277.90 L431.99,277.90" class="t"/><path d="M426.5 238.5 L426.5 253" stroke-width="0.9" stroke="#6a6a6a"/><path d="M467.66,13.00 L477.12,13.00 L471.62,19.80 C475.58,19.46 477.67,21.84 477.67,24.90 C477.67,28.30 475.36,30.00 472.50,30.00 C469.86,30.00 467.88,28.64 467.22,26.60" class="t"/><path d="M472.4 32.5 L472.4 60.2" stroke-width="0.9" stroke="#6a6a6a"/><path d="M576.74,44.60 L576.74,28.80 L569.60,39.86 L579.40,39.86" class="t"/><path d="M576.2 46.4 L576.2 78.2" stroke-width="0.9" stroke="#6a6a6a"/><path d="M657.46,114.30 L666.92,114.30 L661.42,121.06 C665.38,120.72 667.47,123.09 667.47,126.13 C667.47,129.51 665.16,131.20 662.30,131.20 C659.66,131.20 657.68,129.85 657.02,127.82" class="t"/><path d="M662.3 134.2 L662.3 154.3" stroke-width="0.9" stroke="#6a6a6a"/><path d="M747.50,78.40 L739.30,78.40 L738.97,85.50 C741.24,84.15 744.70,83.81 746.86,86.00 C748.80,88.20 748.58,92.77 746.42,94.45 C743.62,96.14 739.94,95.30 738.22,92.60" class="t"/><path d="M743.2 97.8 L743.2 140.5" stroke-width="0.9" stroke="#6a6a6a"/><circle cx="403" cy="61.4" r="16.3" fill="#fff" stroke="#333" stroke-width="1"/><path d="M397.20,68.20 L402.30,55.10 L407.40,68.20 M398.93,63.75 L405.67,63.75" class="t"/><circle cx="693" cy="49.6" r="16.6" fill="#fff" stroke="#333" stroke-width="1"/><path d="M687.40,43.60 L687.40,57.40 L692.04,57.40 C695.40,57.40 695.40,50.22 692.20,50.22 L687.40,50.22 M692.20,50.22 C694.76,49.95 694.76,43.60 691.80,43.60 L687.40,43.60" class="t"/><circle cx="180" cy="346.8" r="16.7" fill="#fff" stroke="#333" stroke-width="1"/><path d="M174.60,353.80 L179.70,340.30 L184.80,353.80 M176.33,349.21 L183.07,349.21" class="t"/><circle cx="118.9" cy="539.6" r="16.9" fill="#fff" stroke="#333" stroke-width="1"/><path d="M113.60,532.40 L113.60,546.60 L118.36,546.60 C121.80,546.60 121.80,539.22 118.52,539.22 L113.60,539.22 M118.52,539.22 C121.14,538.93 121.14,532.40 118.11,532.40 L113.60,532.40" class="t"/></g>
<g id="96_axes"><path d="M142 211.2 L184.7 187" stroke-width="0.9"/><path d="M207.8 173.8 L272 137.4" stroke-width="0.9"/><path d="M291.2 126.5 L388.9 71" stroke-width="0.9"/><path d="M194.4 338.3 L247.6 307.6" stroke-width="0.9"/><path d="M352.5 247.1 L534.2 142.2" stroke-width="0.9"/><path d="M595.1 107.1 L634.3 84.5" stroke-width="0.9"/><path d="M657 71.4 L678.6 58.9" stroke-width="0.9"/><path d="M451.5 161.4 L529.2 115.9" stroke-width="0.9"/><path d="M452.5 217.4 L529.2 171.9" stroke-width="0.9"/><path d="M496.6 110.9 L507.9 116.7" stroke-width="0.9"/><path d="M586.4 152.9 L599 159.2" stroke-width="0.9"/><path d="M133.5 530 L181 502.6" stroke-width="0.9"/><path d="M216.6 482.1 L320.5 422.3" stroke-width="0.9"/><path d="M343 409.4 L395.5 379.1" stroke-width="0.9"/><path d="M424 362.7 L477.5 331.9" stroke-width="0.9"/><path d="M537 297.7 L567.6 280.1" stroke-width="0.9"/><path d="M643.4 236.4 L737.2 182.4" stroke-width="0.9"/><path d="M775.6 160.3 L829.5 129.3" stroke-width="0.9"/><path d="M855.3 114.4 L934.5 68.8" stroke-width="0.9"/><path d="M951.5 59 L975.4 45.3" stroke-width="0.9"/><path d="M975.4 45.3 L975.4 116.7 L604.7 331.4 L604.7 423.3" stroke-width="0.9"/><path d="M604.7 424.7 L780 322.9" stroke-width="0.9"/><path d="M824.4 297.1 L939.9 230" stroke-width="0.9"/></g>
</svg></body></html>
